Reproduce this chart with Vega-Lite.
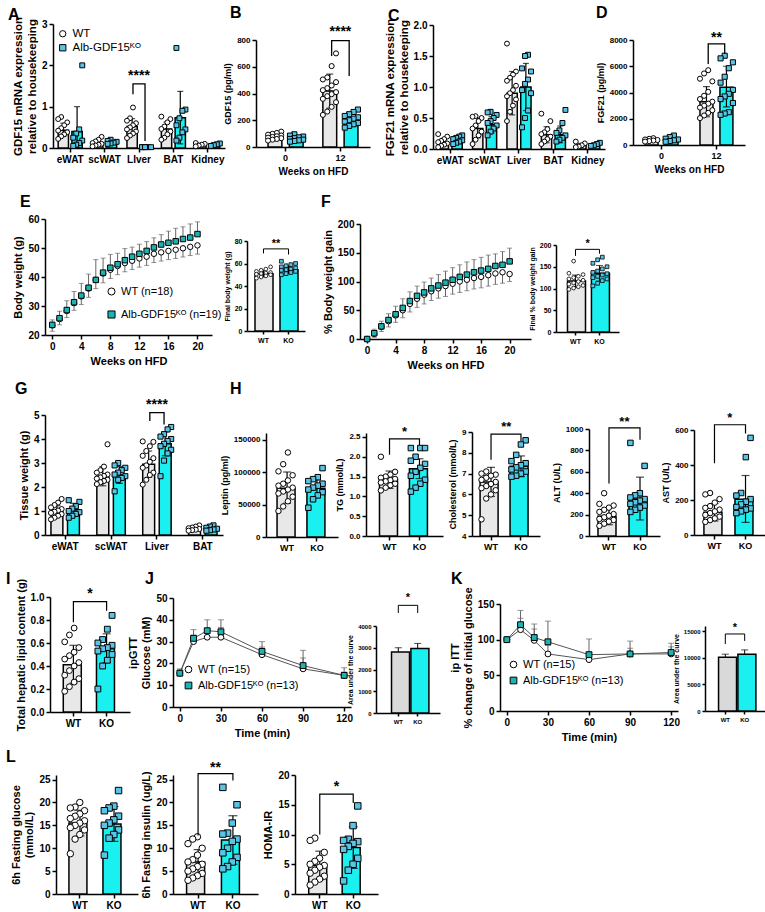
{
"$schema":"https://vega.github.io/schema/vega-lite/v6.json",
"padding":{"left":3,"top":5,"right":2,"bottom":2},
"config":{"view":{"stroke":null,"fill":"transparent"},"font":"Liberation Sans",
"axis":{"labelFont":"Liberation Sans","titleFont":"Liberation Sans","labelFontWeight":"bold","titleFontWeight":"bold","labelColor":"black","titleColor":"black","domainColor":"black","tickColor":"black","domainWidth":1.5,"tickWidth":1.5,"tickSize":4,"labelFontSize":10,"titleFontSize":11,"grid":false,"labelPadding":2,"titlePadding":4,"labelAngle":0,"labelFlush":false,"labelOverlap":false,"tickCount":30},
"title":{"anchor":"start","frame":"group","fontSize":16,"font":"Liberation Sans","fontWeight":"bold","color":"black","baseline":"bottom","offset":0}},
"datasets":{
"bars":[
{"p":"A","c":"eWAT","g":"WT","m":0.43,"lo":0.28,"hi":0.6},{"p":"A","c":"eWAT","g":"KO","m":0.4,"lo":0,"hi":1.0},
{"p":"A","c":"scWAT","g":"WT","m":0.12,"lo":0.06,"hi":0.18},{"p":"A","c":"scWAT","g":"KO","m":0.14,"lo":0.11,"hi":0.17},
{"p":"A","c":"LIver","g":"WT","m":0.52,"lo":0.33,"hi":0.71},{"p":"A","c":"LIver","g":"KO","m":0.02,"lo":0.01,"hi":0.03},
{"p":"A","c":"BAT","g":"WT","m":0.46,"lo":0.29,"hi":0.63},{"p":"A","c":"BAT","g":"KO","m":0.73,"lo":0.1,"hi":1.37},
{"p":"A","c":"Kidney","g":"WT","m":0.08,"lo":0.05,"hi":0.11},{"p":"A","c":"Kidney","g":"KO","m":0.07,"lo":0.05,"hi":0.09},
{"p":"B","c":"0","g":"WT","m":80,"lo":60,"hi":100},{"p":"B","c":"0","g":"KO","m":65,"lo":47,"hi":83},
{"p":"B","c":"12","g":"WT","m":418,"lo":290,"hi":545},{"p":"B","c":"12","g":"KO","m":205,"lo":165,"hi":245},
{"p":"C","c":"eWAT","g":"WT","m":0.11,"lo":0.05,"hi":0.17},{"p":"C","c":"eWAT","g":"KO","m":0.15,"lo":0.1,"hi":0.2},
{"p":"C","c":"scWAT","g":"WT","m":0.33,"lo":0.18,"hi":0.5},{"p":"C","c":"scWAT","g":"KO","m":0.39,"lo":0.26,"hi":0.52},
{"p":"C","c":"Liver","g":"WT","m":0.9,"lo":0.55,"hi":1.25},{"p":"C","c":"Liver","g":"KO","m":1.0,"lo":0.62,"hi":1.38},
{"p":"C","c":"BAT","g":"WT","m":0.23,"lo":0.1,"hi":0.36},{"p":"C","c":"BAT","g":"KO","m":0.23,"lo":0.1,"hi":0.37},
{"p":"C","c":"Kidney","g":"WT","m":0.06,"lo":0.03,"hi":0.09},{"p":"C","c":"Kidney","g":"KO","m":0.07,"lo":0.05,"hi":0.09},
{"p":"D","c":"0","g":"WT","m":380,"lo":280,"hi":480},{"p":"D","c":"0","g":"KO","m":430,"lo":270,"hi":590},
{"p":"D","c":"12","g":"WT","m":3300,"lo":2150,"hi":4450},{"p":"D","c":"12","g":"KO","m":4400,"lo":2900,"hi":6000},
{"p":"G","c":"eWAT","g":"WT","m":1.0,"lo":0.78,"hi":1.22},{"p":"G","c":"eWAT","g":"KO","m":1.05,"lo":0.78,"hi":1.32},
{"p":"G","c":"scWAT","g":"WT","m":2.45,"lo":2.05,"hi":2.85},{"p":"G","c":"scWAT","g":"KO","m":2.5,"lo":2.15,"hi":2.85},
{"p":"G","c":"Liver","g":"WT","m":2.95,"lo":2.4,"hi":3.5},{"p":"G","c":"Liver","g":"KO","m":3.8,"lo":3.3,"hi":4.3},
{"p":"G","c":"BAT","g":"WT","m":0.28,"lo":0.2,"hi":0.36},{"p":"G","c":"BAT","g":"KO","m":0.27,"lo":0.2,"hi":0.34},
{"p":"Ei","g":"WT","m":51,"lo":48,"hi":54},{"p":"Ei","g":"KO","m":54.5,"lo":51,"hi":58},
{"p":"Fi","g":"WT","m":117,"lo":103,"hi":131},{"p":"Fi","g":"KO","m":135,"lo":117,"hi":153},
{"p":"Lep","g":"WT","m":75000,"lo":52000,"hi":100000},{"p":"Lep","g":"KO","m":75000,"lo":62000,"hi":88000},
{"p":"TG","g":"WT","m":1.42,"lo":1.2,"hi":1.64},{"p":"TG","g":"KO","m":1.7,"lo":1.45,"hi":1.95},
{"p":"Chol","g":"WT","m":6.6,"lo":5.9,"hi":7.3},{"p":"Chol","g":"KO","m":7.35,"lo":6.85,"hi":7.85},
{"p":"ALT","g":"WT","m":185,"lo":105,"hi":265},{"p":"ALT","g":"KO","m":345,"lo":150,"hi":550},
{"p":"AST","g":"WT","m":130,"lo":80,"hi":180},{"p":"AST","g":"KO","m":205,"lo":72,"hi":340},
{"p":"I","g":"WT","m":0.41,"lo":0.25,"hi":0.58},{"p":"I","g":"KO","m":0.55,"lo":0.43,"hi":0.68},
{"p":"Ji","g":"WT","m":2800,"lo":2600,"hi":3000},{"p":"Ji","g":"KO","m":2970,"lo":2750,"hi":3200},
{"p":"Ki","g":"WT","m":10100,"lo":9500,"hi":10700},{"p":"Ki","g":"KO","m":10700,"lo":9900,"hi":11500},
{"p":"Glu","g":"WT","m":15.5,"lo":12.7,"hi":18.3},{"p":"Glu","g":"KO","m":15.3,"lo":11.5,"hi":19.1},
{"p":"Ins","g":"WT","m":7,"lo":4.3,"hi":9.7},{"p":"Ins","g":"KO","m":11.8,"lo":6.5,"hi":17.1},
{"p":"HOMA","g":"WT","m":4.8,"lo":2.4,"hi":7.2},{"p":"HOMA","g":"KO","m":7.8,"lo":4.3,"hi":11.3}
],
"pts":[
{"p":"A","c":"eWAT","g":"WT","v":0.75},{"p":"A","c":"eWAT","g":"WT","v":0.7},{"p":"A","c":"eWAT","g":"WT","v":0.62},{"p":"A","c":"eWAT","g":"WT","v":0.55},{"p":"A","c":"eWAT","g":"WT","v":0.48},{"p":"A","c":"eWAT","g":"WT","v":0.42},{"p":"A","c":"eWAT","g":"WT","v":0.38},{"p":"A","c":"eWAT","g":"WT","v":0.33},{"p":"A","c":"eWAT","g":"WT","v":0.28},{"p":"A","c":"eWAT","g":"WT","v":0.22},
{"p":"A","c":"eWAT","g":"KO","v":2.0},{"p":"A","c":"eWAT","g":"KO","v":0.45},{"p":"A","c":"eWAT","g":"KO","v":0.35},{"p":"A","c":"eWAT","g":"KO","v":0.25},{"p":"A","c":"eWAT","g":"KO","v":0.18},{"p":"A","c":"eWAT","g":"KO","v":0.12},{"p":"A","c":"eWAT","g":"KO","v":0.08},{"p":"A","c":"eWAT","g":"KO","v":0.05},
{"p":"A","c":"scWAT","g":"WT","v":0.27},{"p":"A","c":"scWAT","g":"WT","v":0.2},{"p":"A","c":"scWAT","g":"WT","v":0.16},{"p":"A","c":"scWAT","g":"WT","v":0.12},{"p":"A","c":"scWAT","g":"WT","v":0.1},{"p":"A","c":"scWAT","g":"WT","v":0.08},{"p":"A","c":"scWAT","g":"WT","v":0.06},{"p":"A","c":"scWAT","g":"WT","v":0.04},
{"p":"A","c":"scWAT","g":"KO","v":0.2},{"p":"A","c":"scWAT","g":"KO","v":0.17},{"p":"A","c":"scWAT","g":"KO","v":0.15},{"p":"A","c":"scWAT","g":"KO","v":0.13},{"p":"A","c":"scWAT","g":"KO","v":0.11},{"p":"A","c":"scWAT","g":"KO","v":0.1},
{"p":"A","c":"LIver","g":"WT","v":0.98},{"p":"A","c":"LIver","g":"WT","v":0.72},{"p":"A","c":"LIver","g":"WT","v":0.66},{"p":"A","c":"LIver","g":"WT","v":0.6},{"p":"A","c":"LIver","g":"WT","v":0.55},{"p":"A","c":"LIver","g":"WT","v":0.5},{"p":"A","c":"LIver","g":"WT","v":0.45},{"p":"A","c":"LIver","g":"WT","v":0.4},{"p":"A","c":"LIver","g":"WT","v":0.35},{"p":"A","c":"LIver","g":"WT","v":0.3},{"p":"A","c":"LIver","g":"WT","v":0.24},
{"p":"A","c":"LIver","g":"KO","v":0.02},{"p":"A","c":"LIver","g":"KO","v":0.02},{"p":"A","c":"LIver","g":"KO","v":0.02},{"p":"A","c":"LIver","g":"KO","v":0.02},{"p":"A","c":"LIver","g":"KO","v":0.02},{"p":"A","c":"LIver","g":"KO","v":0.02},
{"p":"A","c":"BAT","g":"WT","v":0.76},{"p":"A","c":"BAT","g":"WT","v":0.7},{"p":"A","c":"BAT","g":"WT","v":0.62},{"p":"A","c":"BAT","g":"WT","v":0.52},{"p":"A","c":"BAT","g":"WT","v":0.46},{"p":"A","c":"BAT","g":"WT","v":0.4},{"p":"A","c":"BAT","g":"WT","v":0.33},{"p":"A","c":"BAT","g":"WT","v":0.25},{"p":"A","c":"BAT","g":"WT","v":0.2},
{"p":"A","c":"BAT","g":"KO","v":2.42},{"p":"A","c":"BAT","g":"KO","v":0.93},{"p":"A","c":"BAT","g":"KO","v":0.9},{"p":"A","c":"BAT","g":"KO","v":0.72},{"p":"A","c":"BAT","g":"KO","v":0.55},{"p":"A","c":"BAT","g":"KO","v":0.45},{"p":"A","c":"BAT","g":"KO","v":0.38},{"p":"A","c":"BAT","g":"KO","v":0.25},{"p":"A","c":"BAT","g":"KO","v":0.18},
{"p":"A","c":"Kidney","g":"WT","v":0.12},{"p":"A","c":"Kidney","g":"WT","v":0.1},{"p":"A","c":"Kidney","g":"WT","v":0.08},{"p":"A","c":"Kidney","g":"WT","v":0.06},{"p":"A","c":"Kidney","g":"WT","v":0.04},
{"p":"A","c":"Kidney","g":"KO","v":0.11},{"p":"A","c":"Kidney","g":"KO","v":0.09},{"p":"A","c":"Kidney","g":"KO","v":0.07},{"p":"A","c":"Kidney","g":"KO","v":0.05},
{"p":"B","c":"0","g":"WT","v":115},{"p":"B","c":"0","g":"WT","v":105},{"p":"B","c":"0","g":"WT","v":98},{"p":"B","c":"0","g":"WT","v":92},{"p":"B","c":"0","g":"WT","v":86},{"p":"B","c":"0","g":"WT","v":80},{"p":"B","c":"0","g":"WT","v":75},{"p":"B","c":"0","g":"WT","v":70},{"p":"B","c":"0","g":"WT","v":66},{"p":"B","c":"0","g":"WT","v":60},{"p":"B","c":"0","g":"WT","v":55},{"p":"B","c":"0","g":"WT","v":48},
{"p":"B","c":"0","g":"KO","v":95},{"p":"B","c":"0","g":"KO","v":85},{"p":"B","c":"0","g":"KO","v":78},{"p":"B","c":"0","g":"KO","v":72},{"p":"B","c":"0","g":"KO","v":66},{"p":"B","c":"0","g":"KO","v":60},{"p":"B","c":"0","g":"KO","v":55},{"p":"B","c":"0","g":"KO","v":50},{"p":"B","c":"0","g":"KO","v":45},{"p":"B","c":"0","g":"KO","v":40},
{"p":"B","c":"12","g":"WT","v":700},{"p":"B","c":"12","g":"WT","v":605},{"p":"B","c":"12","g":"WT","v":520},{"p":"B","c":"12","g":"WT","v":505},{"p":"B","c":"12","g":"WT","v":485},{"p":"B","c":"12","g":"WT","v":460},{"p":"B","c":"12","g":"WT","v":440},{"p":"B","c":"12","g":"WT","v":425},{"p":"B","c":"12","g":"WT","v":410},{"p":"B","c":"12","g":"WT","v":395},{"p":"B","c":"12","g":"WT","v":380},{"p":"B","c":"12","g":"WT","v":360},{"p":"B","c":"12","g":"WT","v":335},{"p":"B","c":"12","g":"WT","v":300},{"p":"B","c":"12","g":"WT","v":265},{"p":"B","c":"12","g":"WT","v":240},
{"p":"B","c":"12","g":"KO","v":280},{"p":"B","c":"12","g":"KO","v":262},{"p":"B","c":"12","g":"KO","v":245},{"p":"B","c":"12","g":"KO","v":232},{"p":"B","c":"12","g":"KO","v":222},{"p":"B","c":"12","g":"KO","v":212},{"p":"B","c":"12","g":"KO","v":200},{"p":"B","c":"12","g":"KO","v":190},{"p":"B","c":"12","g":"KO","v":180},{"p":"B","c":"12","g":"KO","v":170},{"p":"B","c":"12","g":"KO","v":158},{"p":"B","c":"12","g":"KO","v":145},
{"p":"C","c":"eWAT","g":"WT","v":0.24},{"p":"C","c":"eWAT","g":"WT","v":0.2},{"p":"C","c":"eWAT","g":"WT","v":0.16},{"p":"C","c":"eWAT","g":"WT","v":0.13},{"p":"C","c":"eWAT","g":"WT","v":0.11},{"p":"C","c":"eWAT","g":"WT","v":0.09},{"p":"C","c":"eWAT","g":"WT","v":0.07},{"p":"C","c":"eWAT","g":"WT","v":0.05},{"p":"C","c":"eWAT","g":"WT","v":0.03},
{"p":"C","c":"eWAT","g":"KO","v":0.22},{"p":"C","c":"eWAT","g":"KO","v":0.2},{"p":"C","c":"eWAT","g":"KO","v":0.18},{"p":"C","c":"eWAT","g":"KO","v":0.16},{"p":"C","c":"eWAT","g":"KO","v":0.14},{"p":"C","c":"eWAT","g":"KO","v":0.12},{"p":"C","c":"eWAT","g":"KO","v":0.1},{"p":"C","c":"eWAT","g":"KO","v":0.08},
{"p":"C","c":"scWAT","g":"WT","v":0.53},{"p":"C","c":"scWAT","g":"WT","v":0.52},{"p":"C","c":"scWAT","g":"WT","v":0.5},{"p":"C","c":"scWAT","g":"WT","v":0.45},{"p":"C","c":"scWAT","g":"WT","v":0.38},{"p":"C","c":"scWAT","g":"WT","v":0.33},{"p":"C","c":"scWAT","g":"WT","v":0.28},{"p":"C","c":"scWAT","g":"WT","v":0.22},{"p":"C","c":"scWAT","g":"WT","v":0.15},{"p":"C","c":"scWAT","g":"WT","v":0.08},
{"p":"C","c":"scWAT","g":"KO","v":0.6},{"p":"C","c":"scWAT","g":"KO","v":0.59},{"p":"C","c":"scWAT","g":"KO","v":0.55},{"p":"C","c":"scWAT","g":"KO","v":0.5},{"p":"C","c":"scWAT","g":"KO","v":0.45},{"p":"C","c":"scWAT","g":"KO","v":0.42},{"p":"C","c":"scWAT","g":"KO","v":0.38},{"p":"C","c":"scWAT","g":"KO","v":0.33},{"p":"C","c":"scWAT","g":"KO","v":0.28},{"p":"C","c":"scWAT","g":"KO","v":0.22},
{"p":"C","c":"Liver","g":"WT","v":1.7},{"p":"C","c":"Liver","g":"WT","v":1.25},{"p":"C","c":"Liver","g":"WT","v":1.2},{"p":"C","c":"Liver","g":"WT","v":1.15},{"p":"C","c":"Liver","g":"WT","v":1.1},{"p":"C","c":"Liver","g":"WT","v":1.02},{"p":"C","c":"Liver","g":"WT","v":0.95},{"p":"C","c":"Liver","g":"WT","v":0.9},{"p":"C","c":"Liver","g":"WT","v":0.85},{"p":"C","c":"Liver","g":"WT","v":0.8},{"p":"C","c":"Liver","g":"WT","v":0.7},{"p":"C","c":"Liver","g":"WT","v":0.6},{"p":"C","c":"Liver","g":"WT","v":0.45},
{"p":"C","c":"Liver","g":"KO","v":1.52},{"p":"C","c":"Liver","g":"KO","v":1.5},{"p":"C","c":"Liver","g":"KO","v":1.3},{"p":"C","c":"Liver","g":"KO","v":1.25},{"p":"C","c":"Liver","g":"KO","v":1.12},{"p":"C","c":"Liver","g":"KO","v":1.05},{"p":"C","c":"Liver","g":"KO","v":0.95},{"p":"C","c":"Liver","g":"KO","v":0.9},{"p":"C","c":"Liver","g":"KO","v":0.62},{"p":"C","c":"Liver","g":"KO","v":0.5},{"p":"C","c":"Liver","g":"KO","v":0.35},
{"p":"C","c":"BAT","g":"WT","v":0.57},{"p":"C","c":"BAT","g":"WT","v":0.45},{"p":"C","c":"BAT","g":"WT","v":0.32},{"p":"C","c":"BAT","g":"WT","v":0.27},{"p":"C","c":"BAT","g":"WT","v":0.24},{"p":"C","c":"BAT","g":"WT","v":0.2},{"p":"C","c":"BAT","g":"WT","v":0.16},{"p":"C","c":"BAT","g":"WT","v":0.12},{"p":"C","c":"BAT","g":"WT","v":0.08},
{"p":"C","c":"BAT","g":"KO","v":0.63},{"p":"C","c":"BAT","g":"KO","v":0.42},{"p":"C","c":"BAT","g":"KO","v":0.3},{"p":"C","c":"BAT","g":"KO","v":0.26},{"p":"C","c":"BAT","g":"KO","v":0.22},{"p":"C","c":"BAT","g":"KO","v":0.18},{"p":"C","c":"BAT","g":"KO","v":0.15},{"p":"C","c":"BAT","g":"KO","v":0.12},
{"p":"C","c":"Kidney","g":"WT","v":0.12},{"p":"C","c":"Kidney","g":"WT","v":0.09},{"p":"C","c":"Kidney","g":"WT","v":0.06},{"p":"C","c":"Kidney","g":"WT","v":0.04},{"p":"C","c":"Kidney","g":"WT","v":0.03},
{"p":"C","c":"Kidney","g":"KO","v":0.1},{"p":"C","c":"Kidney","g":"KO","v":0.08},{"p":"C","c":"Kidney","g":"KO","v":0.06},{"p":"C","c":"Kidney","g":"KO","v":0.05},
{"p":"D","c":"0","g":"WT","v":520},{"p":"D","c":"0","g":"WT","v":470},{"p":"D","c":"0","g":"WT","v":420},{"p":"D","c":"0","g":"WT","v":380},{"p":"D","c":"0","g":"WT","v":340},{"p":"D","c":"0","g":"WT","v":300},{"p":"D","c":"0","g":"WT","v":260},
{"p":"D","c":"0","g":"KO","v":720},{"p":"D","c":"0","g":"KO","v":600},{"p":"D","c":"0","g":"KO","v":480},{"p":"D","c":"0","g":"KO","v":420},{"p":"D","c":"0","g":"KO","v":360},{"p":"D","c":"0","g":"KO","v":300},{"p":"D","c":"0","g":"KO","v":250},
{"p":"D","c":"12","g":"WT","v":5700},{"p":"D","c":"12","g":"WT","v":5450},{"p":"D","c":"12","g":"WT","v":5050},{"p":"D","c":"12","g":"WT","v":4850},{"p":"D","c":"12","g":"WT","v":4050},{"p":"D","c":"12","g":"WT","v":3750},{"p":"D","c":"12","g":"WT","v":3500},{"p":"D","c":"12","g":"WT","v":3300},{"p":"D","c":"12","g":"WT","v":3150},{"p":"D","c":"12","g":"WT","v":3000},{"p":"D","c":"12","g":"WT","v":2850},{"p":"D","c":"12","g":"WT","v":2650},{"p":"D","c":"12","g":"WT","v":2450},{"p":"D","c":"12","g":"WT","v":2250},{"p":"D","c":"12","g":"WT","v":2050},
{"p":"D","c":"12","g":"KO","v":6800},{"p":"D","c":"12","g":"KO","v":6600},{"p":"D","c":"12","g":"KO","v":6300},{"p":"D","c":"12","g":"KO","v":5850},{"p":"D","c":"12","g":"KO","v":5200},{"p":"D","c":"12","g":"KO","v":4750},{"p":"D","c":"12","g":"KO","v":4200},{"p":"D","c":"12","g":"KO","v":3900},{"p":"D","c":"12","g":"KO","v":3700},{"p":"D","c":"12","g":"KO","v":3500},{"p":"D","c":"12","g":"KO","v":3200},{"p":"D","c":"12","g":"KO","v":2500},{"p":"D","c":"12","g":"KO","v":2400},{"p":"D","c":"12","g":"KO","v":2300},
{"p":"G","c":"eWAT","g":"WT","v":1.5},{"p":"G","c":"eWAT","g":"WT","v":1.35},{"p":"G","c":"eWAT","g":"WT","v":1.25},{"p":"G","c":"eWAT","g":"WT","v":1.15},{"p":"G","c":"eWAT","g":"WT","v":1.08},{"p":"G","c":"eWAT","g":"WT","v":1.02},{"p":"G","c":"eWAT","g":"WT","v":0.97},{"p":"G","c":"eWAT","g":"WT","v":0.92},{"p":"G","c":"eWAT","g":"WT","v":0.87},{"p":"G","c":"eWAT","g":"WT","v":0.8},{"p":"G","c":"eWAT","g":"WT","v":0.72},{"p":"G","c":"eWAT","g":"WT","v":0.65},
{"p":"G","c":"eWAT","g":"KO","v":1.45},{"p":"G","c":"eWAT","g":"KO","v":1.38},{"p":"G","c":"eWAT","g":"KO","v":1.2},{"p":"G","c":"eWAT","g":"KO","v":1.1},{"p":"G","c":"eWAT","g":"KO","v":1.0},{"p":"G","c":"eWAT","g":"KO","v":0.95},{"p":"G","c":"eWAT","g":"KO","v":0.88},{"p":"G","c":"eWAT","g":"KO","v":0.8},{"p":"G","c":"eWAT","g":"KO","v":0.72},
{"p":"G","c":"scWAT","g":"WT","v":3.78},{"p":"G","c":"scWAT","g":"WT","v":2.85},{"p":"G","c":"scWAT","g":"WT","v":2.7},{"p":"G","c":"scWAT","g":"WT","v":2.6},{"p":"G","c":"scWAT","g":"WT","v":2.52},{"p":"G","c":"scWAT","g":"WT","v":2.46},{"p":"G","c":"scWAT","g":"WT","v":2.4},{"p":"G","c":"scWAT","g":"WT","v":2.35},{"p":"G","c":"scWAT","g":"WT","v":2.3},{"p":"G","c":"scWAT","g":"WT","v":2.25},{"p":"G","c":"scWAT","g":"WT","v":2.2},{"p":"G","c":"scWAT","g":"WT","v":2.12},
{"p":"G","c":"scWAT","g":"KO","v":3.0},{"p":"G","c":"scWAT","g":"KO","v":2.9},{"p":"G","c":"scWAT","g":"KO","v":2.8},{"p":"G","c":"scWAT","g":"KO","v":2.7},{"p":"G","c":"scWAT","g":"KO","v":2.6},{"p":"G","c":"scWAT","g":"KO","v":2.52},{"p":"G","c":"scWAT","g":"KO","v":2.45},{"p":"G","c":"scWAT","g":"KO","v":2.38},{"p":"G","c":"scWAT","g":"KO","v":2.3},{"p":"G","c":"scWAT","g":"KO","v":1.82},
{"p":"G","c":"Liver","g":"WT","v":3.9},{"p":"G","c":"Liver","g":"WT","v":3.88},{"p":"G","c":"Liver","g":"WT","v":3.7},{"p":"G","c":"Liver","g":"WT","v":3.5},{"p":"G","c":"Liver","g":"WT","v":3.3},{"p":"G","c":"Liver","g":"WT","v":3.2},{"p":"G","c":"Liver","g":"WT","v":3.05},{"p":"G","c":"Liver","g":"WT","v":2.9},{"p":"G","c":"Liver","g":"WT","v":2.8},{"p":"G","c":"Liver","g":"WT","v":2.6},{"p":"G","c":"Liver","g":"WT","v":2.5},{"p":"G","c":"Liver","g":"WT","v":2.3},{"p":"G","c":"Liver","g":"WT","v":2.1},
{"p":"G","c":"Liver","g":"KO","v":4.5},{"p":"G","c":"Liver","g":"KO","v":4.4},{"p":"G","c":"Liver","g":"KO","v":4.2},{"p":"G","c":"Liver","g":"KO","v":4.1},{"p":"G","c":"Liver","g":"KO","v":4.0},{"p":"G","c":"Liver","g":"KO","v":3.92},{"p":"G","c":"Liver","g":"KO","v":3.8},{"p":"G","c":"Liver","g":"KO","v":3.7},{"p":"G","c":"Liver","g":"KO","v":3.55},{"p":"G","c":"Liver","g":"KO","v":3.4},{"p":"G","c":"Liver","g":"KO","v":3.1},{"p":"G","c":"Liver","g":"KO","v":2.45},
{"p":"G","c":"BAT","g":"WT","v":0.4},{"p":"G","c":"BAT","g":"WT","v":0.35},{"p":"G","c":"BAT","g":"WT","v":0.31},{"p":"G","c":"BAT","g":"WT","v":0.28},{"p":"G","c":"BAT","g":"WT","v":0.25},{"p":"G","c":"BAT","g":"WT","v":0.22},{"p":"G","c":"BAT","g":"WT","v":0.2},{"p":"G","c":"BAT","g":"WT","v":0.18},
{"p":"G","c":"BAT","g":"KO","v":0.4},{"p":"G","c":"BAT","g":"KO","v":0.35},{"p":"G","c":"BAT","g":"KO","v":0.3},{"p":"G","c":"BAT","g":"KO","v":0.26},{"p":"G","c":"BAT","g":"KO","v":0.23},{"p":"G","c":"BAT","g":"KO","v":0.2},{"p":"G","c":"BAT","g":"KO","v":0.18},
{"p":"Ei","g":"WT","v":57},{"p":"Ei","g":"WT","v":55},{"p":"Ei","g":"WT","v":54},{"p":"Ei","g":"WT","v":53},{"p":"Ei","g":"WT","v":52},{"p":"Ei","g":"WT","v":51.5},{"p":"Ei","g":"WT","v":51},{"p":"Ei","g":"WT","v":50.5},{"p":"Ei","g":"WT","v":50},{"p":"Ei","g":"WT","v":49},{"p":"Ei","g":"WT","v":48},{"p":"Ei","g":"WT","v":47},
{"p":"Ei","g":"KO","v":62},{"p":"Ei","g":"KO","v":60},{"p":"Ei","g":"KO","v":59},{"p":"Ei","g":"KO","v":58},{"p":"Ei","g":"KO","v":57},{"p":"Ei","g":"KO","v":56},{"p":"Ei","g":"KO","v":55},{"p":"Ei","g":"KO","v":54.5},{"p":"Ei","g":"KO","v":54},{"p":"Ei","g":"KO","v":53},{"p":"Ei","g":"KO","v":52},{"p":"Ei","g":"KO","v":51},{"p":"Ei","g":"KO","v":50},
{"p":"Fi","g":"WT","v":163},{"p":"Fi","g":"WT","v":135},{"p":"Fi","g":"WT","v":132},{"p":"Fi","g":"WT","v":128},{"p":"Fi","g":"WT","v":125},{"p":"Fi","g":"WT","v":122},{"p":"Fi","g":"WT","v":119},{"p":"Fi","g":"WT","v":116},{"p":"Fi","g":"WT","v":113},{"p":"Fi","g":"WT","v":110},{"p":"Fi","g":"WT","v":107},{"p":"Fi","g":"WT","v":104},{"p":"Fi","g":"WT","v":101},{"p":"Fi","g":"WT","v":98},
{"p":"Fi","g":"KO","v":172},{"p":"Fi","g":"KO","v":166},{"p":"Fi","g":"KO","v":158},{"p":"Fi","g":"KO","v":150},{"p":"Fi","g":"KO","v":145},{"p":"Fi","g":"KO","v":140},{"p":"Fi","g":"KO","v":137},{"p":"Fi","g":"KO","v":134},{"p":"Fi","g":"KO","v":131},{"p":"Fi","g":"KO","v":128},{"p":"Fi","g":"KO","v":125},{"p":"Fi","g":"KO","v":122},{"p":"Fi","g":"KO","v":118},{"p":"Fi","g":"KO","v":112},{"p":"Fi","g":"KO","v":106},
{"p":"Lep","g":"WT","v":130000},{"p":"Lep","g":"WT","v":112000},{"p":"Lep","g":"WT","v":101000},{"p":"Lep","g":"WT","v":95000},{"p":"Lep","g":"WT","v":87000},{"p":"Lep","g":"WT","v":82000},{"p":"Lep","g":"WT","v":79000},{"p":"Lep","g":"WT","v":76000},{"p":"Lep","g":"WT","v":73000},{"p":"Lep","g":"WT","v":70000},{"p":"Lep","g":"WT","v":67000},{"p":"Lep","g":"WT","v":62000},{"p":"Lep","g":"WT","v":55000},{"p":"Lep","g":"WT","v":47000},{"p":"Lep","g":"WT","v":40000},
{"p":"Lep","g":"KO","v":106000},{"p":"Lep","g":"KO","v":92000},{"p":"Lep","g":"KO","v":89000},{"p":"Lep","g":"KO","v":86000},{"p":"Lep","g":"KO","v":82000},{"p":"Lep","g":"KO","v":79000},{"p":"Lep","g":"KO","v":76000},{"p":"Lep","g":"KO","v":73000},{"p":"Lep","g":"KO","v":69000},{"p":"Lep","g":"KO","v":64000},{"p":"Lep","g":"KO","v":58000},{"p":"Lep","g":"KO","v":45000},
{"p":"TG","g":"WT","v":2.0},{"p":"TG","g":"WT","v":1.62},{"p":"TG","g":"WT","v":1.55},{"p":"TG","g":"WT","v":1.5},{"p":"TG","g":"WT","v":1.47},{"p":"TG","g":"WT","v":1.44},{"p":"TG","g":"WT","v":1.41},{"p":"TG","g":"WT","v":1.38},{"p":"TG","g":"WT","v":1.35},{"p":"TG","g":"WT","v":1.32},{"p":"TG","g":"WT","v":1.28},{"p":"TG","g":"WT","v":1.22},{"p":"TG","g":"WT","v":1.15},
{"p":"TG","g":"KO","v":2.22},{"p":"TG","g":"KO","v":2.22},{"p":"TG","g":"KO","v":2.22},{"p":"TG","g":"KO","v":2.0},{"p":"TG","g":"KO","v":1.9},{"p":"TG","g":"KO","v":1.82},{"p":"TG","g":"KO","v":1.72},{"p":"TG","g":"KO","v":1.62},{"p":"TG","g":"KO","v":1.52},{"p":"TG","g":"KO","v":1.42},{"p":"TG","g":"KO","v":1.32},{"p":"TG","g":"KO","v":1.22},{"p":"TG","g":"KO","v":1.12},
{"p":"Chol","g":"WT","v":7.1},{"p":"Chol","g":"WT","v":7.0},{"p":"Chol","g":"WT","v":6.95},{"p":"Chol","g":"WT","v":6.9},{"p":"Chol","g":"WT","v":6.8},{"p":"Chol","g":"WT","v":6.7},{"p":"Chol","g":"WT","v":6.6},{"p":"Chol","g":"WT","v":6.5},{"p":"Chol","g":"WT","v":6.4},{"p":"Chol","g":"WT","v":6.3},{"p":"Chol","g":"WT","v":6.2},{"p":"Chol","g":"WT","v":6.0},{"p":"Chol","g":"WT","v":5.8},{"p":"Chol","g":"WT","v":4.8},
{"p":"Chol","g":"KO","v":8.6},{"p":"Chol","g":"KO","v":8.4},{"p":"Chol","g":"KO","v":7.9},{"p":"Chol","g":"KO","v":7.6},{"p":"Chol","g":"KO","v":7.5},{"p":"Chol","g":"KO","v":7.4},{"p":"Chol","g":"KO","v":7.3},{"p":"Chol","g":"KO","v":7.2},{"p":"Chol","g":"KO","v":7.1},{"p":"Chol","g":"KO","v":7.0},{"p":"Chol","g":"KO","v":6.9},{"p":"Chol","g":"KO","v":6.85},
{"p":"ALT","g":"WT","v":400},{"p":"ALT","g":"WT","v":300},{"p":"ALT","g":"WT","v":285},{"p":"ALT","g":"WT","v":265},{"p":"ALT","g":"WT","v":245},{"p":"ALT","g":"WT","v":225},{"p":"ALT","g":"WT","v":205},{"p":"ALT","g":"WT","v":190},{"p":"ALT","g":"WT","v":175},{"p":"ALT","g":"WT","v":160},{"p":"ALT","g":"WT","v":150},{"p":"ALT","g":"WT","v":135},{"p":"ALT","g":"WT","v":115},{"p":"ALT","g":"WT","v":95},
{"p":"ALT","g":"KO","v":870},{"p":"ALT","g":"KO","v":655},{"p":"ALT","g":"KO","v":400},{"p":"ALT","g":"KO","v":380},{"p":"ALT","g":"KO","v":360},{"p":"ALT","g":"KO","v":345},{"p":"ALT","g":"KO","v":330},{"p":"ALT","g":"KO","v":315},{"p":"ALT","g":"KO","v":300},{"p":"ALT","g":"KO","v":285},{"p":"ALT","g":"KO","v":265},{"p":"ALT","g":"KO","v":245},{"p":"ALT","g":"KO","v":225},
{"p":"AST","g":"WT","v":240},{"p":"AST","g":"WT","v":232},{"p":"AST","g":"WT","v":205},{"p":"AST","g":"WT","v":185},{"p":"AST","g":"WT","v":165},{"p":"AST","g":"WT","v":155},{"p":"AST","g":"WT","v":145},{"p":"AST","g":"WT","v":135},{"p":"AST","g":"WT","v":125},{"p":"AST","g":"WT","v":115},{"p":"AST","g":"WT","v":105},{"p":"AST","g":"WT","v":95},{"p":"AST","g":"WT","v":85},{"p":"AST","g":"WT","v":75},
{"p":"AST","g":"KO","v":555},{"p":"AST","g":"KO","v":445},{"p":"AST","g":"KO","v":240},{"p":"AST","g":"KO","v":225},{"p":"AST","g":"KO","v":205},{"p":"AST","g":"KO","v":190},{"p":"AST","g":"KO","v":175},{"p":"AST","g":"KO","v":160},{"p":"AST","g":"KO","v":152},{"p":"AST","g":"KO","v":145},{"p":"AST","g":"KO","v":135},{"p":"AST","g":"KO","v":125},
{"p":"I","g":"WT","v":0.73},{"p":"I","g":"WT","v":0.67},{"p":"I","g":"WT","v":0.61},{"p":"I","g":"WT","v":0.56},{"p":"I","g":"WT","v":0.52},{"p":"I","g":"WT","v":0.49},{"p":"I","g":"WT","v":0.46},{"p":"I","g":"WT","v":0.43},{"p":"I","g":"WT","v":0.4},{"p":"I","g":"WT","v":0.36},{"p":"I","g":"WT","v":0.32},{"p":"I","g":"WT","v":0.29},{"p":"I","g":"WT","v":0.26},{"p":"I","g":"WT","v":0.22},{"p":"I","g":"WT","v":0.18},
{"p":"I","g":"KO","v":0.84},{"p":"I","g":"KO","v":0.72},{"p":"I","g":"KO","v":0.63},{"p":"I","g":"KO","v":0.6},{"p":"I","g":"KO","v":0.58},{"p":"I","g":"KO","v":0.56},{"p":"I","g":"KO","v":0.55},{"p":"I","g":"KO","v":0.53},{"p":"I","g":"KO","v":0.5},{"p":"I","g":"KO","v":0.45},{"p":"I","g":"KO","v":0.4},{"p":"I","g":"KO","v":0.2},
{"p":"Glu","g":"WT","v":20},{"p":"Glu","g":"WT","v":19},{"p":"Glu","g":"WT","v":18.8},{"p":"Glu","g":"WT","v":18.2},{"p":"Glu","g":"WT","v":17.5},{"p":"Glu","g":"WT","v":17},{"p":"Glu","g":"WT","v":16.5},{"p":"Glu","g":"WT","v":16},{"p":"Glu","g":"WT","v":15.5},{"p":"Glu","g":"WT","v":15},{"p":"Glu","g":"WT","v":14.5},{"p":"Glu","g":"WT","v":14},{"p":"Glu","g":"WT","v":13},{"p":"Glu","g":"WT","v":12},{"p":"Glu","g":"WT","v":8.8},
{"p":"Glu","g":"KO","v":22.6},{"p":"Glu","g":"KO","v":19.2},{"p":"Glu","g":"KO","v":18.8},{"p":"Glu","g":"KO","v":18.2},{"p":"Glu","g":"KO","v":17},{"p":"Glu","g":"KO","v":16.2},{"p":"Glu","g":"KO","v":15.5},{"p":"Glu","g":"KO","v":15},{"p":"Glu","g":"KO","v":14},{"p":"Glu","g":"KO","v":13},{"p":"Glu","g":"KO","v":12.2},{"p":"Glu","g":"KO","v":8.5},
{"p":"Ins","g":"WT","v":12.5},{"p":"Ins","g":"WT","v":12},{"p":"Ins","g":"WT","v":11},{"p":"Ins","g":"WT","v":10},{"p":"Ins","g":"WT","v":8.5},{"p":"Ins","g":"WT","v":7.5},{"p":"Ins","g":"WT","v":7},{"p":"Ins","g":"WT","v":6.5},{"p":"Ins","g":"WT","v":6},{"p":"Ins","g":"WT","v":5.5},{"p":"Ins","g":"WT","v":5},{"p":"Ins","g":"WT","v":4.5},{"p":"Ins","g":"WT","v":4},{"p":"Ins","g":"WT","v":3.5},{"p":"Ins","g":"WT","v":3},
{"p":"Ins","g":"KO","v":23.3},{"p":"Ins","g":"KO","v":19.5},{"p":"Ins","g":"KO","v":15.5},{"p":"Ins","g":"KO","v":13.3},{"p":"Ins","g":"KO","v":13.1},{"p":"Ins","g":"KO","v":12},{"p":"Ins","g":"KO","v":11.5},{"p":"Ins","g":"KO","v":10},{"p":"Ins","g":"KO","v":9},{"p":"Ins","g":"KO","v":8},{"p":"Ins","g":"KO","v":7},{"p":"Ins","g":"KO","v":6},{"p":"Ins","g":"KO","v":5.5},
{"p":"HOMA","g":"WT","v":9.4},{"p":"HOMA","g":"WT","v":9},{"p":"HOMA","g":"WT","v":7},{"p":"HOMA","g":"WT","v":6},{"p":"HOMA","g":"WT","v":5.5},{"p":"HOMA","g":"WT","v":5},{"p":"HOMA","g":"WT","v":4.8},{"p":"HOMA","g":"WT","v":4.5},{"p":"HOMA","g":"WT","v":4},{"p":"HOMA","g":"WT","v":3.5},{"p":"HOMA","g":"WT","v":3},{"p":"HOMA","g":"WT","v":2.5},{"p":"HOMA","g":"WT","v":2},{"p":"HOMA","g":"WT","v":1.5},
{"p":"HOMA","g":"KO","v":14.8},{"p":"HOMA","g":"KO","v":11.5},{"p":"HOMA","g":"KO","v":9.2},{"p":"HOMA","g":"KO","v":9},{"p":"HOMA","g":"KO","v":8.8},{"p":"HOMA","g":"KO","v":8.5},{"p":"HOMA","g":"KO","v":8},{"p":"HOMA","g":"KO","v":7.5},{"p":"HOMA","g":"KO","v":6},{"p":"HOMA","g":"KO","v":5},{"p":"HOMA","g":"KO","v":4},{"p":"HOMA","g":"KO","v":2.2}
],
"br":[
{"p":"A","c":"LIver","g":"WT","y":1.3,"o":0},{"p":"A","c":"LIver","g":"WT","y":1.55,"o":1},{"p":"A","c":"LIver","g":"KO","y":1.55,"o":2},{"p":"A","c":"LIver","g":"KO","y":0.17,"o":3},
{"p":"B","c":"12","g":"WT","y":680,"o":0},{"p":"B","c":"12","g":"WT","y":795,"o":1},{"p":"B","c":"12","g":"KO","y":795,"o":2},{"p":"B","c":"12","g":"KO","y":530,"o":3},
{"p":"D","c":"12","g":"WT","y":6170,"o":0},{"p":"D","c":"12","g":"WT","y":7700,"o":1},{"p":"D","c":"12","g":"KO","y":7700,"o":2},{"p":"D","c":"12","g":"KO","y":6930,"o":3},
{"p":"G","c":"Liver","g":"WT","y":4.75,"o":0},{"p":"G","c":"Liver","g":"WT","y":5.1,"o":1},{"p":"G","c":"Liver","g":"KO","y":5.1,"o":2},{"p":"G","c":"Liver","g":"KO","y":4.6,"o":3},
{"p":"Ei","g":"WT","y":69,"o":0},{"p":"Ei","g":"WT","y":73,"o":1},{"p":"Ei","g":"KO","y":73,"o":2},{"p":"Ei","g":"KO","y":68,"o":3},
{"p":"Fi","g":"WT","y":175,"o":0},{"p":"Fi","g":"WT","y":190,"o":1},{"p":"Fi","g":"KO","y":190,"o":2},{"p":"Fi","g":"KO","y":180,"o":3},
{"p":"TG","g":"WT","y":2.05,"o":0},{"p":"TG","g":"WT","y":2.45,"o":1},{"p":"TG","g":"KO","y":2.45,"o":2},{"p":"TG","g":"KO","y":2.3,"o":3},
{"p":"Chol","g":"WT","y":7.67,"o":0},{"p":"Chol","g":"WT","y":8.9,"o":1},{"p":"Chol","g":"KO","y":8.9,"o":2},{"p":"Chol","g":"KO","y":8.55,"o":3},
{"p":"ALT","g":"WT","y":490,"o":0},{"p":"ALT","g":"WT","y":1010,"o":1},{"p":"ALT","g":"KO","y":1010,"o":2},{"p":"ALT","g":"KO","y":900,"o":3},
{"p":"AST","g":"WT","y":410,"o":0},{"p":"AST","g":"WT","y":630,"o":1},{"p":"AST","g":"KO","y":630,"o":2},{"p":"AST","g":"KO","y":580,"o":3},
{"p":"I","g":"WT","y":0.78,"o":0},{"p":"I","g":"WT","y":0.96,"o":1},{"p":"I","g":"KO","y":0.96,"o":2},{"p":"I","g":"KO","y":0.88,"o":3},
{"p":"Ji","g":"WT","y":4600,"o":0},{"p":"Ji","g":"WT","y":4950,"o":1},{"p":"Ji","g":"KO","y":4950,"o":2},{"p":"Ji","g":"KO","y":4600,"o":3},
{"p":"Ki","g":"WT","y":12600,"o":0},{"p":"Ki","g":"WT","y":14500,"o":1},{"p":"Ki","g":"KO","y":14500,"o":2},{"p":"Ki","g":"KO","y":13200,"o":3},
{"p":"Ins","g":"WT","y":12.8,"o":0},{"p":"Ins","g":"WT","y":26.3,"o":1},{"p":"Ins","g":"KO","y":26.3,"o":2},{"p":"Ins","g":"KO","y":24.8,"o":3},
{"p":"HOMA","g":"WT","y":10.0,"o":0},{"p":"HOMA","g":"WT","y":16.8,"o":1},{"p":"HOMA","g":"KO","y":16.8,"o":2},{"p":"HOMA","g":"KO","y":15.3,"o":3}
],
"st":[
{"p":"A","c":"LIver","g":"WT","y":1.74,"t":"****"},{"p":"B","c":"12","g":"WT","y":860,"t":"****"},{"p":"D","c":"12","g":"WT","y":8150,"t":"**"},{"p":"G","c":"Liver","g":"WT","y":5.4,"t":"****"},
{"p":"Ei","g":"WT","y":77,"t":"**"},{"p":"Fi","g":"WT","y":202,"t":"*"},{"p":"TG","g":"WT","y":2.62,"t":"*"},{"p":"Chol","g":"WT","y":9.25,"t":"**"},{"p":"ALT","g":"WT","y":1070,"t":"**"},{"p":"AST","g":"WT","y":670,"t":"*"},
{"p":"I","g":"WT","y":1.03,"t":"*"},{"p":"Ji","g":"WT","y":5300,"t":"*"},{"p":"Ki","g":"WT","y":15600,"t":"*"},{"p":"Ins","g":"WT","y":27.6,"t":"**"},{"p":"HOMA","g":"WT","y":18.0,"t":"*"}
],
"ts":[
{"p":"E","t":0,"g":"WT","m":23.3,"e":21.3},{"p":"E","t":1,"g":"WT","m":25.5,"e":23.5},{"p":"E","t":2,"g":"WT","m":28.3,"e":26},{"p":"E","t":3,"g":"WT","m":31.0,"e":28.5},{"p":"E","t":4,"g":"WT","m":33.3,"e":30.5},{"p":"E","t":5,"g":"WT","m":36.0,"e":33},{"p":"E","t":6,"g":"WT","m":39.0,"e":36},{"p":"E","t":7,"g":"WT","m":41.2,"e":38},{"p":"E","t":8,"g":"WT","m":42.5,"e":39.5},{"p":"E","t":9,"g":"WT","m":43.8,"e":40.8},{"p":"E","t":10,"g":"WT","m":44.8,"e":41.8},{"p":"E","t":11,"g":"WT","m":45.6,"e":42.6},{"p":"E","t":12,"g":"WT","m":46.4,"e":43.4},{"p":"E","t":13,"g":"WT","m":47.0,"e":44},{"p":"E","t":14,"g":"WT","m":48.0,"e":45},{"p":"E","t":15,"g":"WT","m":48.5,"e":45.5},{"p":"E","t":16,"g":"WT","m":49.0,"e":46},{"p":"E","t":17,"g":"WT","m":49.4,"e":46.4},{"p":"E","t":18,"g":"WT","m":49.9,"e":46.9},{"p":"E","t":19,"g":"WT","m":50.4,"e":47.4},{"p":"E","t":20,"g":"WT","m":50.9,"e":47.9},
{"p":"E","t":0,"g":"KO","m":23.5,"e":25.2},{"p":"E","t":1,"g":"KO","m":25.8,"e":28.2},{"p":"E","t":2,"g":"KO","m":28.6,"e":31.8},{"p":"E","t":3,"g":"KO","m":31.3,"e":35},{"p":"E","t":4,"g":"KO","m":33.6,"e":37.8},{"p":"E","t":5,"g":"KO","m":36.3,"e":41},{"p":"E","t":6,"g":"KO","m":39.0,"e":46},{"p":"E","t":7,"g":"KO","m":41.5,"e":46.5},{"p":"E","t":8,"g":"KO","m":43.2,"e":47.8},{"p":"E","t":9,"g":"KO","m":44.4,"e":48.2},{"p":"E","t":10,"g":"KO","m":45.8,"e":49.8},{"p":"E","t":11,"g":"KO","m":47.0,"e":50.3},{"p":"E","t":12,"g":"KO","m":48.0,"e":51.3},{"p":"E","t":13,"g":"KO","m":49.0,"e":52.2},{"p":"E","t":14,"g":"KO","m":50.2,"e":53.5},{"p":"E","t":15,"g":"KO","m":51.2,"e":54.6},{"p":"E","t":16,"g":"KO","m":51.8,"e":55.8},{"p":"E","t":17,"g":"KO","m":52.3,"e":56.8},{"p":"E","t":18,"g":"KO","m":53.1,"e":57.3},{"p":"E","t":19,"g":"KO","m":53.6,"e":58.3},{"p":"E","t":20,"g":"KO","m":54.8,"e":59},
{"p":"F","t":0,"g":"WT","m":0,"e":-3},{"p":"F","t":1,"g":"WT","m":9,"e":3},{"p":"F","t":2,"g":"WT","m":21,"e":13},{"p":"F","t":3,"g":"WT","m":31,"e":21},{"p":"F","t":4,"g":"WT","m":41,"e":29},{"p":"F","t":5,"g":"WT","m":50,"e":37},{"p":"F","t":6,"g":"WT","m":61,"e":47},{"p":"F","t":7,"g":"WT","m":70,"e":55},{"p":"F","t":8,"g":"WT","m":77,"e":61},{"p":"F","t":9,"g":"WT","m":83,"e":67},{"p":"F","t":10,"g":"WT","m":88,"e":71},{"p":"F","t":11,"g":"WT","m":92,"e":74},{"p":"F","t":12,"g":"WT","m":96,"e":78},{"p":"F","t":13,"g":"WT","m":100,"e":81},{"p":"F","t":14,"g":"WT","m":103,"e":84},{"p":"F","t":15,"g":"WT","m":106,"e":87},{"p":"F","t":16,"g":"WT","m":108,"e":89},{"p":"F","t":17,"g":"WT","m":111,"e":92},{"p":"F","t":18,"g":"WT","m":114,"e":95},{"p":"F","t":19,"g":"WT","m":116,"e":97},{"p":"F","t":20,"g":"WT","m":113,"e":100},
{"p":"F","t":0,"g":"KO","m":0,"e":3},{"p":"F","t":1,"g":"KO","m":10,"e":17},{"p":"F","t":2,"g":"KO","m":22,"e":31},{"p":"F","t":3,"g":"KO","m":33,"e":44},{"p":"F","t":4,"g":"KO","m":43,"e":57},{"p":"F","t":5,"g":"KO","m":54,"e":70},{"p":"F","t":6,"g":"KO","m":66,"e":82},{"p":"F","t":7,"g":"KO","m":75,"e":92},{"p":"F","t":8,"g":"KO","m":81,"e":99},{"p":"F","t":9,"g":"KO","m":88,"e":106},{"p":"F","t":10,"g":"KO","m":93,"e":112},{"p":"F","t":11,"g":"KO","m":98,"e":118},{"p":"F","t":12,"g":"KO","m":103,"e":124},{"p":"F","t":13,"g":"KO","m":108,"e":129},{"p":"F","t":14,"g":"KO","m":112,"e":134},{"p":"F","t":15,"g":"KO","m":116,"e":138},{"p":"F","t":16,"g":"KO","m":119,"e":142},{"p":"F","t":17,"g":"KO","m":122,"e":146},{"p":"F","t":18,"g":"KO","m":127,"e":148},{"p":"F","t":19,"g":"KO","m":129,"e":152},{"p":"F","t":20,"g":"KO","m":135,"e":158},
{"p":"J","t":0,"g":"WT","m":15.5,"e":17},{"p":"J","t":10,"g":"WT","m":30,"e":33},{"p":"J","t":20,"g":"WT","m":32,"e":36},{"p":"J","t":30,"g":"WT","m":32,"e":36.5},{"p":"J","t":60,"g":"WT","m":24,"e":27.5},{"p":"J","t":90,"g":"WT","m":17.5,"e":22.5},{"p":"J","t":120,"g":"WT","m":14.5,"e":16},
{"p":"J","t":0,"g":"KO","m":15.5,"e":17.5},{"p":"J","t":10,"g":"KO","m":31.5,"e":35.5},{"p":"J","t":20,"g":"KO","m":35,"e":40},{"p":"J","t":30,"g":"KO","m":34.5,"e":40},{"p":"J","t":60,"g":"KO","m":25.5,"e":30},{"p":"J","t":90,"g":"KO","m":19,"e":26},{"p":"J","t":120,"g":"KO","m":14.5,"e":18},
{"p":"K","t":0,"g":"WT","m":100,"e":102},{"p":"K","t":10,"g":"WT","m":114,"e":130},{"p":"K","t":20,"g":"WT","m":99,"e":115},{"p":"K","t":30,"g":"WT","m":80,"e":92},{"p":"K","t":60,"g":"WT","m":72,"e":80},{"p":"K","t":90,"g":"WT","m":80,"e":88},{"p":"K","t":120,"g":"WT","m":80,"e":90},
{"p":"K","t":0,"g":"KO","m":100,"e":103},{"p":"K","t":10,"g":"KO","m":121,"e":141},{"p":"K","t":20,"g":"KO","m":103,"e":122},{"p":"K","t":30,"g":"KO","m":97,"e":126},{"p":"K","t":60,"g":"KO","m":79,"e":101},{"p":"K","t":90,"g":"KO","m":80,"e":98},{"p":"K","t":120,"g":"KO","m":82,"e":95}
]
},
"columns":6,"align":"each","spacing":0,"bounds":"flush",
"resolve":{"scale":{"shape":"independent","fill":"independent","stroke":"independent"}},
"concat":[
{"width":170,"height":124,"title":{"text":"A","dx":5,"dy":11},
"resolve":{"scale":{"xOffset":"independent"}},
"layer":[
{"data":{"name":"bars"},"transform":[{"filter":"datum.p=='A'"}],"mark":{"type":"bar","stroke":"black","strokeWidth":1.5},
"encoding":{"x":{"field":"c","type":"nominal","sort":["eWAT","scWAT","LIver","BAT","Kidney"],"scale":{"range":[50,222],"paddingInner":0.3,"paddingOuter":0.15},"axis":{"title":null}},
"xOffset":{"field":"g","type":"nominal","scale":{"domain":["WT","KO"],"paddingInner":0.25}},
"y":{"field":"m","type":"quantitative","scale":{"domain":[0,3],"range":[124,0]},"axis":{"offset":-50,"values":[0,1,2,3],"format":"d","title":["GDF15 mRNA expression","relative to housekeeping"],"titleFontSize":11.5}},
"fill":{"condition":{"test":"datum.g=='WT'","value":"#e8e8e8"},"value":"#1af0f0"}}},
{"data":{"name":"bars"},"transform":[{"filter":"datum.p=='A'"}],"mark":{"type":"rule","color":"black","strokeWidth":1.2},
"encoding":{"x":{"field":"c","type":"nominal","sort":["eWAT","scWAT","LIver","BAT","Kidney"]},"xOffset":{"field":"g","type":"nominal","scale":{"domain":["WT","KO"],"paddingInner":0.25}},"y":{"field":"lo","type":"quantitative"},"y2":{"field":"hi"}}},
{"data":{"name":"bars"},"transform":[{"filter":"datum.p=='A'"},{"fold":["lo","hi"],"as":["k","e"]}],"mark":{"type":"tick","orient":"horizontal","color":"black","thickness":1.2,"size":6},
"encoding":{"x":{"field":"c","type":"nominal","sort":["eWAT","scWAT","LIver","BAT","Kidney"]},"xOffset":{"field":"g","type":"nominal","scale":{"domain":["WT","KO"],"paddingInner":0.25}},"y":{"field":"e","type":"quantitative"}}},
{"data":{"name":"pts"},"transform":[{"filter":"datum.p=='A'"},{"window":[{"op":"row_number","as":"r"}],"groupby":["c","g"],"sort":[{"field":"v"}]},{"calculate":"datum.g+(datum.r%4)","as":"s"}],
"mark":{"type":"point","filled":true,"strokeWidth":1,"size":24,"opacity":1},
"encoding":{"x":{"field":"c","type":"nominal","sort":["eWAT","scWAT","LIver","BAT","Kidney"]},"xOffset":{"field":"s","type":"nominal","scale":{"domain":["WT1","WT2","WT3","WT0","_","KO1","KO2","KO3","KO0"],"paddingInner":0,"paddingOuter":0}},"y":{"field":"v","type":"quantitative"},
"shape":{"field":"g","type":"nominal","scale":{"domain":["WT","KO"],"range":["circle","square"]},"legend":{"title":null,"orient":"none","legendX":54,"legendY":4,"labelExpr":"datum.label=='WT' ? 'WT' : 'Alb-GDF15ᴷᴼ'","labelFontSize":11.5,"labelFont":"Liberation Sans","labelFontWeight":"normal","labelColor":"black","symbolStrokeWidth":1,"symbolSize":40,"rowPadding":1}},
"fill":{"field":"g","type":"nominal","scale":{"domain":["WT","KO"],"range":["white","#58c4e6"]},"legend":{"title":null,"orient":"none","legendX":54,"legendY":4,"labelExpr":"datum.label=='WT' ? 'WT' : 'Alb-GDF15ᴷᴼ'","labelFontSize":11.5,"labelFont":"Liberation Sans","labelFontWeight":"normal","labelColor":"black","symbolStrokeWidth":1,"symbolSize":40,"rowPadding":1}},
"stroke":{"field":"g","type":"nominal","scale":{"domain":["WT","KO"],"range":["black","black"]},"legend":{"title":null,"orient":"none","legendX":54,"legendY":4,"labelExpr":"datum.label=='WT' ? 'WT' : 'Alb-GDF15ᴷᴼ'","labelFontSize":11.5,"labelFont":"Liberation Sans","labelFontWeight":"normal","labelColor":"black","symbolStrokeWidth":1,"symbolSize":40,"rowPadding":1}}}},
{"data":{"name":"br"},"transform":[{"filter":"datum.p=='A'"}],"mark":{"type":"line","color":"black","strokeWidth":1.3},
"encoding":{"x":{"field":"c","type":"nominal","sort":["eWAT","scWAT","LIver","BAT","Kidney"]},"xOffset":{"field":"g","type":"nominal","scale":{"domain":["WT","KO"],"paddingInner":0.25}},"y":{"field":"y","type":"quantitative"},"order":{"field":"o"}}},
{"data":{"name":"st"},"transform":[{"filter":"datum.p=='A'"}],"mark":{"type":"text","fontSize":14,"fontWeight":"bold","font":"Liberation Sans","baseline":"middle","color":"black"},
"encoding":{"x":{"field":"c","type":"nominal","sort":["eWAT","scWAT","LIver","BAT","Kidney"]},"y":{"field":"y","type":"quantitative"},"text":{"field":"t"}}}
]},
{"width":122,"height":123,"title":{"text":"B","dx":57,"dy":1},
"resolve":{"scale":{"xOffset":"independent"}},
"layer":[
{"data":{"name":"bars"},"transform":[{"filter":"datum.p=='B'"}],"mark":{"type":"bar","stroke":"black","strokeWidth":1.5},
"encoding":{"x":{"field":"c","type":"nominal","sort":["0","12"],"scale":{"range":[83,197],"paddingInner":0.36,"paddingOuter":0.22},"axis":{"title":"Weeks on HFD","labelFontSize":9,"titleFontSize":10}},
"xOffset":{"field":"g","type":"nominal","scale":{"domain":["WT","KO"],"paddingInner":0.35}},
"y":{"field":"m","type":"quantitative","scale":{"domain":[0,800],"range":[123,16]},"axis":{"offset":-83,"values":[0,200,400,600,800],"format":"d","title":"GDF15 (pg/ml)","labelFontSize":8,"titleFontSize":9}},
"fill":{"condition":{"test":"datum.g=='WT'","value":"#e8e8e8"},"value":"#1af0f0"}}},
{"data":{"name":"bars"},"transform":[{"filter":"datum.p=='B'"}],"mark":{"type":"rule","color":"black","strokeWidth":1.2},
"encoding":{"x":{"field":"c","type":"nominal","sort":["0","12"]},"xOffset":{"field":"g","type":"nominal","scale":{"domain":["WT","KO"],"paddingInner":0.35}},"y":{"field":"lo","type":"quantitative"},"y2":{"field":"hi"}}},
{"data":{"name":"bars"},"transform":[{"filter":"datum.p=='B'"},{"fold":["lo","hi"],"as":["k","e"]}],"mark":{"type":"tick","orient":"horizontal","color":"black","thickness":1.2,"size":7},
"encoding":{"x":{"field":"c","type":"nominal","sort":["0","12"]},"xOffset":{"field":"g","type":"nominal","scale":{"domain":["WT","KO"],"paddingInner":0.35}},"y":{"field":"e","type":"quantitative"}}},
{"data":{"name":"pts"},"transform":[{"filter":"datum.p=='B'"},{"window":[{"op":"row_number","as":"r"}],"groupby":["c","g"],"sort":[{"field":"v"}]},{"calculate":"datum.g+(datum.r%4)","as":"s"}],
"mark":{"type":"point","filled":true,"stroke":"black","strokeWidth":1,"size":26,"opacity":1},
"encoding":{"x":{"field":"c","type":"nominal","sort":["0","12"]},"xOffset":{"field":"s","type":"nominal","scale":{"domain":["WT1","WT2","WT3","WT0","_","KO1","KO2","KO3","KO0"],"paddingInner":0,"paddingOuter":0}},"y":{"field":"v","type":"quantitative"},
"shape":{"condition":{"test":"datum.g=='WT'","value":"circle"},"value":"square"},"fill":{"condition":{"test":"datum.g=='WT'","value":"white"},"value":"#58c4e6"}}},
{"data":{"name":"br"},"transform":[{"filter":"datum.p=='B'"}],"mark":{"type":"line","color":"black","strokeWidth":1.3},
"encoding":{"x":{"field":"c","type":"nominal","sort":["0","12"]},"xOffset":{"field":"g","type":"nominal","scale":{"domain":["WT","KO"],"paddingInner":0.35}},"y":{"field":"y","type":"quantitative"},"order":{"field":"o"}}},
{"data":{"name":"st"},"transform":[{"filter":"datum.p=='B'"}],"mark":{"type":"text","fontSize":14,"fontWeight":"bold","font":"Liberation Sans","baseline":"middle","color":"black"},
"encoding":{"x":{"field":"c","type":"nominal","sort":["0","12"]},"y":{"field":"y","type":"quantitative"},"text":{"field":"t"}}}
]},
{"width":177,"height":125,"title":{"text":"C","dx":93,"dy":10},
"resolve":{"scale":{"xOffset":"independent"}},
"layer":[
{"data":{"name":"bars"},"transform":[{"filter":"datum.p=='C'"}],"mark":{"type":"bar","stroke":"black","strokeWidth":1.5},
"encoding":{"x":{"field":"c","type":"nominal","sort":["eWAT","scWAT","Liver","BAT","Kidney"],"scale":{"range":[138,310],"paddingInner":0.3,"paddingOuter":0.15},"axis":{"title":null}},
"xOffset":{"field":"g","type":"nominal","scale":{"domain":["WT","KO"],"paddingInner":0.25}},
"y":{"field":"m","type":"quantitative","scale":{"domain":[0,2],"range":[125,1]},"axis":{"offset":-138,"values":[0,0.5,1,1.5,2],"format":".1f","title":["FGF21 mRNA expression","relative to housekeeping"],"titleFontSize":11.5}},
"fill":{"condition":{"test":"datum.g=='WT'","value":"#e8e8e8"},"value":"#1af0f0"}}},
{"data":{"name":"bars"},"transform":[{"filter":"datum.p=='C'"}],"mark":{"type":"rule","color":"black","strokeWidth":1.2},
"encoding":{"x":{"field":"c","type":"nominal","sort":["eWAT","scWAT","Liver","BAT","Kidney"]},"xOffset":{"field":"g","type":"nominal","scale":{"domain":["WT","KO"],"paddingInner":0.25}},"y":{"field":"lo","type":"quantitative"},"y2":{"field":"hi"}}},
{"data":{"name":"bars"},"transform":[{"filter":"datum.p=='C'"},{"fold":["lo","hi"],"as":["k","e"]}],"mark":{"type":"tick","orient":"horizontal","color":"black","thickness":1.2,"size":6},
"encoding":{"x":{"field":"c","type":"nominal","sort":["eWAT","scWAT","Liver","BAT","Kidney"]},"xOffset":{"field":"g","type":"nominal","scale":{"domain":["WT","KO"],"paddingInner":0.25}},"y":{"field":"e","type":"quantitative"}}},
{"data":{"name":"pts"},"transform":[{"filter":"datum.p=='C'"},{"window":[{"op":"row_number","as":"r"}],"groupby":["c","g"],"sort":[{"field":"v"}]},{"calculate":"datum.g+(datum.r%4)","as":"s"}],
"mark":{"type":"point","filled":true,"stroke":"black","strokeWidth":1,"size":24,"opacity":1},
"encoding":{"x":{"field":"c","type":"nominal","sort":["eWAT","scWAT","Liver","BAT","Kidney"]},"xOffset":{"field":"s","type":"nominal","scale":{"domain":["WT1","WT2","WT3","WT0","_","KO1","KO2","KO3","KO0"],"paddingInner":0,"paddingOuter":0}},"y":{"field":"v","type":"quantitative"},
"shape":{"condition":{"test":"datum.g=='WT'","value":"circle"},"value":"square"},"fill":{"condition":{"test":"datum.g=='WT'","value":"white"},"value":"#58c4e6"}}}
]},
{"width":117,"height":121,"title":{"text":"D","dx":124,"dy":1},
"resolve":{"scale":{"xOffset":"independent"}},
"layer":[
{"data":{"name":"bars"},"transform":[{"filter":"datum.p=='D'"}],"mark":{"type":"bar","stroke":"black","strokeWidth":1.5},
"encoding":{"x":{"field":"c","type":"nominal","sort":["0","12"],"scale":{"range":[161,273],"paddingInner":0.4,"paddingOuter":0.22},"axis":{"title":"Weeks on HFD","labelFontSize":9,"titleFontSize":10}},
"xOffset":{"field":"g","type":"nominal","scale":{"domain":["WT","KO"],"paddingInner":0.35}},
"y":{"field":"m","type":"quantitative","scale":{"domain":[0,8000],"range":[121,16]},"axis":{"offset":-161,"values":[0,2000,4000,6000,8000],"format":"d","title":"FGF21 (pg/ml)","labelFontSize":8,"titleFontSize":9}},
"fill":{"condition":{"test":"datum.g=='WT'","value":"#e8e8e8"},"value":"#1af0f0"}}},
{"data":{"name":"bars"},"transform":[{"filter":"datum.p=='D'"}],"mark":{"type":"rule","color":"black","strokeWidth":1.2},
"encoding":{"x":{"field":"c","type":"nominal","sort":["0","12"]},"xOffset":{"field":"g","type":"nominal","scale":{"domain":["WT","KO"],"paddingInner":0.35}},"y":{"field":"lo","type":"quantitative"},"y2":{"field":"hi"}}},
{"data":{"name":"bars"},"transform":[{"filter":"datum.p=='D'"},{"fold":["lo","hi"],"as":["k","e"]}],"mark":{"type":"tick","orient":"horizontal","color":"black","thickness":1.2,"size":7},
"encoding":{"x":{"field":"c","type":"nominal","sort":["0","12"]},"xOffset":{"field":"g","type":"nominal","scale":{"domain":["WT","KO"],"paddingInner":0.35}},"y":{"field":"e","type":"quantitative"}}},
{"data":{"name":"pts"},"transform":[{"filter":"datum.p=='D'"},{"window":[{"op":"row_number","as":"r"}],"groupby":["c","g"],"sort":[{"field":"v"}]},{"calculate":"datum.g+(datum.r%4)","as":"s"}],
"mark":{"type":"point","filled":true,"stroke":"black","strokeWidth":1,"size":26,"opacity":1},
"encoding":{"x":{"field":"c","type":"nominal","sort":["0","12"]},"xOffset":{"field":"s","type":"nominal","scale":{"domain":["WT1","WT2","WT3","WT0","_","KO1","KO2","KO3","KO0"],"paddingInner":0,"paddingOuter":0}},"y":{"field":"v","type":"quantitative"},
"shape":{"condition":{"test":"datum.g=='WT'","value":"circle"},"value":"square"},"fill":{"condition":{"test":"datum.g=='WT'","value":"white"},"value":"#58c4e6"}}},
{"data":{"name":"br"},"transform":[{"filter":"datum.p=='D'"}],"mark":{"type":"line","color":"black","strokeWidth":1.3},
"encoding":{"x":{"field":"c","type":"nominal","sort":["0","12"]},"xOffset":{"field":"g","type":"nominal","scale":{"domain":["WT","KO"],"paddingInner":0.35}},"y":{"field":"y","type":"quantitative"},"order":{"field":"o"}}},
{"data":{"name":"st"},"transform":[{"filter":"datum.p=='D'"}],"mark":{"type":"text","fontSize":14,"fontWeight":"bold","font":"Liberation Sans","baseline":"middle","color":"black"},
"encoding":{"x":{"field":"c","type":"nominal","sort":["0","12"]},"y":{"field":"y","type":"quantitative"},"text":{"field":"t"}}}
]},
{"width":105,"height":1,"data":{"values":[]},"mark":"point","encoding":{}},
{"width":72,"height":1,"data":{"values":[]},"mark":"point","encoding":{}},

{"width":170,"height":186,"title":{"text":"E","dx":17,"dy":65},
"layer":[
{"data":{"name":"ts"},"transform":[{"filter":"datum.p=='E'"}],"mark":{"type":"rule","color":"#666","strokeWidth":1},
"encoding":{"x":{"field":"t","type":"quantitative","scale":{"domain":[-1,22],"range":[42,209],"nice":false,"zero":false},"axis":{"values":[0,4,8,12,16,20],"format":"d","title":"Weeks on HFD"}},
"y":{"field":"m","type":"quantitative","scale":{"domain":[20,60],"range":[186,70],"zero":false,"nice":false},"axis":{"offset":-42,"values":[20,30,40,50,60],"format":"d","title":"Body weight (g)"}},"y2":{"field":"e"}}},
{"data":{"name":"ts"},"transform":[{"filter":"datum.p=='E'"}],"mark":{"type":"tick","orient":"horizontal","color":"#666","thickness":1,"size":5},
"encoding":{"x":{"field":"t","type":"quantitative"},"y":{"field":"e","type":"quantitative"}}},
{"data":{"name":"ts"},"transform":[{"filter":"datum.p=='E'"}],"mark":{"type":"point","filled":true,"strokeWidth":1,"size":30,"opacity":1},
"encoding":{"x":{"field":"t","type":"quantitative"},"y":{"field":"m","type":"quantitative"},
"shape":{"field":"g","type":"nominal","scale":{"domain":["WT","KO"],"range":["circle","square"]},"legend":{"title":null,"orient":"none","legendX":103,"legendY":137,"labelExpr":"datum.label=='WT' ? 'WT (n=18)' : 'Alb-GDF15ᴷᴼ (n=19)'","labelFontSize":11,"labelFont":"Liberation Sans","labelFontWeight":"normal","labelColor":"black","symbolStrokeWidth":1,"symbolSize":50,"rowPadding":10}},
"fill":{"field":"g","type":"nominal","scale":{"domain":["WT","KO"],"range":["white","#1cb3b3"]},"legend":{"title":null,"orient":"none","legendX":103,"legendY":137,"labelExpr":"datum.label=='WT' ? 'WT (n=18)' : 'Alb-GDF15ᴷᴼ (n=19)'","labelFontSize":11,"labelFont":"Liberation Sans","labelFontWeight":"normal","labelColor":"black","symbolStrokeWidth":1,"symbolSize":50,"rowPadding":10}},
"stroke":{"field":"g","type":"nominal","scale":{"domain":["WT","KO"],"range":["black","black"]},"legend":{"title":null,"orient":"none","legendX":103,"legendY":137,"labelExpr":"datum.label=='WT' ? 'WT (n=18)' : 'Alb-GDF15ᴷᴼ (n=19)'","labelFontSize":11,"labelFont":"Liberation Sans","labelFontWeight":"normal","labelColor":"black","symbolStrokeWidth":1,"symbolSize":50,"rowPadding":10}}}}
]},
{"width":122,"height":182,
"layer":[
{"data":{"name":"bars"},"transform":[{"filter":"datum.p=='Ei'"}],"mark":{"type":"bar","stroke":"black","strokeWidth":1.5},
"encoding":{"x":{"field":"g","type":"nominal","sort":["WT","KO"],"scale":{"domain":["WT","KO"],"range":[74,132],"paddingInner":0.32,"paddingOuter":0.32},"axis":{"title":null,"labelFontSize":7,"tickSize":3}},
"y":{"field":"m","type":"quantitative","scale":{"domain":[0,80],"range":[182,92]},"axis":{"offset":-74,"values":[0,20,40,60,80],"format":"d","title":"Final body weight (g)","labelFontSize":7,"titleFontSize":7,"tickSize":3}},
"fill":{"condition":{"test":"datum.g=='WT'","value":"#e8e8e8"},"value":"#1af0f0"}}},
{"data":{"name":"bars"},"transform":[{"filter":"datum.p=='Ei'"}],"mark":{"type":"rule","color":"black","strokeWidth":1},
"encoding":{"x":{"field":"g","type":"nominal","sort":["WT","KO"]},"y":{"field":"lo","type":"quantitative"},"y2":{"field":"hi"}}},
{"data":{"name":"bars"},"transform":[{"filter":"datum.p=='Ei'"},{"fold":["lo","hi"],"as":["k","e"]}],"mark":{"type":"tick","orient":"horizontal","color":"black","thickness":1,"size":7},
"encoding":{"x":{"field":"g","type":"nominal","sort":["WT","KO"]},"y":{"field":"e","type":"quantitative"}}},
{"data":{"name":"pts"},"transform":[{"filter":"datum.p=='Ei'"},{"window":[{"op":"row_number","as":"r"}],"groupby":["g"],"sort":[{"field":"v"}]},{"calculate":"''+(datum.r%4)","as":"s"}],
"mark":{"type":"point","filled":true,"stroke":"black","strokeWidth":0.8,"size":14,"opacity":1},
"encoding":{"x":{"field":"g","type":"nominal","sort":["WT","KO"]},"xOffset":{"field":"s","type":"nominal","scale":{"domain":["1","2","3","0"],"paddingOuter":0.3}},"y":{"field":"v","type":"quantitative"},
"shape":{"condition":{"test":"datum.g=='WT'","value":"circle"},"value":"square"},"fill":{"condition":{"test":"datum.g=='WT'","value":"white"},"value":"#58c4e6"}}},
{"data":{"name":"br"},"transform":[{"filter":"datum.p=='Ei'"}],"mark":{"type":"line","color":"black","strokeWidth":1},
"encoding":{"x":{"field":"g","type":"nominal","sort":["WT","KO"]},"y":{"field":"y","type":"quantitative"},"order":{"field":"o"}}},
{"data":{"name":"st"},"transform":[{"filter":"datum.p=='Ei'"}],"mark":{"type":"text","fontSize":11,"fontWeight":"bold","font":"Liberation Sans","baseline":"middle","color":"black"},
"encoding":{"x":{"datum":"WT","type":"nominal","bandPosition":1.24},"y":{"field":"y","type":"quantitative"},"text":{"field":"t"}}}
]},
{"width":177,"height":190,"title":{"text":"F","dx":26,"dy":65},
"layer":[
{"data":{"name":"ts"},"transform":[{"filter":"datum.p=='F'"}],"mark":{"type":"rule","color":"#666","strokeWidth":1},
"encoding":{"x":{"field":"t","type":"quantitative","scale":{"domain":[-1,23],"range":[65,236],"nice":false,"zero":false},"axis":{"values":[0,4,8,12,16,20],"format":"d","title":"Weeks on HFD"}},
"y":{"field":"m","type":"quantitative","scale":{"domain":[0,200],"range":[190,75],"nice":false},"axis":{"offset":-65,"values":[0,50,100,150,200],"format":"d","title":"% Body weight gain"}},"y2":{"field":"e"}}},
{"data":{"name":"ts"},"transform":[{"filter":"datum.p=='F'"}],"mark":{"type":"tick","orient":"horizontal","color":"#666","thickness":1,"size":5},
"encoding":{"x":{"field":"t","type":"quantitative"},"y":{"field":"e","type":"quantitative"}}},
{"data":{"name":"ts"},"transform":[{"filter":"datum.p=='F'"}],"mark":{"type":"point","filled":true,"stroke":"black","strokeWidth":1,"size":30,"opacity":1},
"encoding":{"x":{"field":"t","type":"quantitative"},"y":{"field":"m","type":"quantitative"},
"shape":{"condition":{"test":"datum.g=='WT'","value":"circle"},"value":"square"},"fill":{"condition":{"test":"datum.g=='WT'","value":"white"},"value":"#1cb3b3"}}}
]},
{"width":117,"height":183,
"layer":[
{"data":{"name":"bars"},"transform":[{"filter":"datum.p=='Fi'"}],"mark":{"type":"bar","stroke":"black","strokeWidth":1.5},
"encoding":{"x":{"field":"g","type":"nominal","sort":["WT","KO"],"scale":{"domain":["WT","KO"],"range":[84,147],"paddingInner":0.33,"paddingOuter":0.48},"axis":{"title":null,"labelFontSize":7,"tickSize":3}},
"y":{"field":"m","type":"quantitative","scale":{"domain":[0,200],"range":[183,96]},"axis":{"offset":-84,"values":[0,50,100,150,200],"format":"d","title":"Final % body weight gain","labelFontSize":7,"titleFontSize":7,"tickSize":3}},
"fill":{"condition":{"test":"datum.g=='WT'","value":"#e8e8e8"},"value":"#1af0f0"}}},
{"data":{"name":"bars"},"transform":[{"filter":"datum.p=='Fi'"}],"mark":{"type":"rule","color":"black","strokeWidth":1},
"encoding":{"x":{"field":"g","type":"nominal","sort":["WT","KO"]},"y":{"field":"lo","type":"quantitative"},"y2":{"field":"hi"}}},
{"data":{"name":"bars"},"transform":[{"filter":"datum.p=='Fi'"},{"fold":["lo","hi"],"as":["k","e"]}],"mark":{"type":"tick","orient":"horizontal","color":"black","thickness":1,"size":7},
"encoding":{"x":{"field":"g","type":"nominal","sort":["WT","KO"]},"y":{"field":"e","type":"quantitative"}}},
{"data":{"name":"pts"},"transform":[{"filter":"datum.p=='Fi'"},{"window":[{"op":"row_number","as":"r"}],"groupby":["g"],"sort":[{"field":"v"}]},{"calculate":"''+(datum.r%4)","as":"s"}],
"mark":{"type":"point","filled":true,"stroke":"black","strokeWidth":0.8,"size":14,"opacity":1},
"encoding":{"x":{"field":"g","type":"nominal","sort":["WT","KO"]},"xOffset":{"field":"s","type":"nominal","scale":{"domain":["1","2","3","0"],"paddingOuter":0.3}},"y":{"field":"v","type":"quantitative"},
"shape":{"condition":{"test":"datum.g=='WT'","value":"circle"},"value":"square"},"fill":{"condition":{"test":"datum.g=='WT'","value":"white"},"value":"#58c4e6"}}},
{"data":{"name":"br"},"transform":[{"filter":"datum.p=='Fi'"}],"mark":{"type":"line","color":"black","strokeWidth":1},
"encoding":{"x":{"field":"g","type":"nominal","sort":["WT","KO"]},"y":{"field":"y","type":"quantitative"},"order":{"field":"o"}}},
{"data":{"name":"st"},"transform":[{"filter":"datum.p=='Fi'"}],"mark":{"type":"text","fontSize":11,"fontWeight":"bold","font":"Liberation Sans","baseline":"middle","color":"black"},
"encoding":{"x":{"datum":"WT","type":"nominal","bandPosition":1.25},"y":{"field":"y","type":"quantitative"},"text":{"field":"t"}}}
]},
{"width":105,"height":1,"data":{"values":[]},"mark":"point","encoding":{}},
{"width":72,"height":1,"data":{"values":[]},"mark":"point","encoding":{}},

{"width":170,"height":196,"title":{"text":"G","dx":12,"dy":62},
"resolve":{"scale":{"xOffset":"independent"}},
"layer":[
{"data":{"name":"bars"},"transform":[{"filter":"datum.p=='G'"}],"mark":{"type":"bar","stroke":"black","strokeWidth":1.5},
"encoding":{"x":{"field":"c","type":"nominal","sort":["eWAT","scWAT","Liver","BAT"],"scale":{"range":[42,220],"paddingInner":0.38,"paddingOuter":0.13},"axis":{"title":null}},
"xOffset":{"field":"g","type":"nominal","scale":{"domain":["WT","KO"],"paddingInner":0.28}},
"y":{"field":"m","type":"quantitative","scale":{"domain":[0,5],"range":[196,76]},"axis":{"offset":-42,"values":[0,1,2,3,4,5],"format":"d","title":"Tissue weight (g)"}},
"fill":{"condition":{"test":"datum.g=='WT'","value":"#e8e8e8"},"value":"#1af0f0"}}},
{"data":{"name":"bars"},"transform":[{"filter":"datum.p=='G'"}],"mark":{"type":"rule","color":"black","strokeWidth":1.2},
"encoding":{"x":{"field":"c","type":"nominal","sort":["eWAT","scWAT","Liver","BAT"]},"xOffset":{"field":"g","type":"nominal","scale":{"domain":["WT","KO"],"paddingInner":0.28}},"y":{"field":"lo","type":"quantitative"},"y2":{"field":"hi"}}},
{"data":{"name":"bars"},"transform":[{"filter":"datum.p=='G'"},{"fold":["lo","hi"],"as":["k","e"]}],"mark":{"type":"tick","orient":"horizontal","color":"black","thickness":1.2,"size":7},
"encoding":{"x":{"field":"c","type":"nominal","sort":["eWAT","scWAT","Liver","BAT"]},"xOffset":{"field":"g","type":"nominal","scale":{"domain":["WT","KO"],"paddingInner":0.28}},"y":{"field":"e","type":"quantitative"}}},
{"data":{"name":"pts"},"transform":[{"filter":"datum.p=='G'"},{"window":[{"op":"row_number","as":"r"}],"groupby":["c","g"],"sort":[{"field":"v"}]},{"calculate":"datum.g+(datum.r%4)","as":"s"}],
"mark":{"type":"point","filled":true,"stroke":"black","strokeWidth":1,"size":26,"opacity":1},
"encoding":{"x":{"field":"c","type":"nominal","sort":["eWAT","scWAT","Liver","BAT"]},"xOffset":{"field":"s","type":"nominal","scale":{"domain":["WT1","WT2","WT3","WT0","_","KO1","KO2","KO3","KO0"],"paddingInner":0,"paddingOuter":0}},"y":{"field":"v","type":"quantitative"},
"shape":{"condition":{"test":"datum.g=='WT'","value":"circle"},"value":"square"},"fill":{"condition":{"test":"datum.g=='WT'","value":"white"},"value":"#58c4e6"}}},
{"data":{"name":"br"},"transform":[{"filter":"datum.p=='G'"}],"mark":{"type":"line","color":"black","strokeWidth":1.3},
"encoding":{"x":{"field":"c","type":"nominal","sort":["eWAT","scWAT","Liver","BAT"]},"xOffset":{"field":"g","type":"nominal","scale":{"domain":["WT","KO"],"paddingInner":0.28}},"y":{"field":"y","type":"quantitative"},"order":{"field":"o"}}},
{"data":{"name":"st"},"transform":[{"filter":"datum.p=='G'"}],"mark":{"type":"text","fontSize":14,"fontWeight":"bold","font":"Liberation Sans","baseline":"middle","color":"black"},
"encoding":{"x":{"field":"c","type":"nominal","sort":["eWAT","scWAT","Liver","BAT"]},"y":{"field":"y","type":"quantitative"},"text":{"field":"t"}}}
]},
{"width":122,"height":198,"title":{"text":"H","dx":57,"dy":62},
"layer":[
{"data":{"name":"bars"},"transform":[{"filter":"datum.p=='Lep'"}],"mark":{"type":"bar","stroke":"black","strokeWidth":1.5},
"encoding":{"x":{"field":"g","type":"nominal","sort":["WT","KO"],"scale":{"domain":["WT","KO"],"range":[93,165],"paddingInner":0.33,"paddingOuter":0.37},"axis":{"title":null,"labelFontSize":9}},
"y":{"field":"m","type":"quantitative","scale":{"domain":[0,150000],"range":[198,94]},"axis":{"offset":-93,"values":[0,50000,100000,150000],"format":"d","title":"Leptin (pg/ml)","labelFontSize":8,"titleFontSize":9}},
"fill":{"condition":{"test":"datum.g=='WT'","value":"#e8e8e8"},"value":"#1af0f0"}}},
{"data":{"name":"bars"},"transform":[{"filter":"datum.p=='Lep'"}],"mark":{"type":"rule","color":"black","strokeWidth":1.2},
"encoding":{"x":{"field":"g","type":"nominal","sort":["WT","KO"]},"y":{"field":"lo","type":"quantitative"},"y2":{"field":"hi"}}},
{"data":{"name":"bars"},"transform":[{"filter":"datum.p=='Lep'"},{"fold":["lo","hi"],"as":["k","e"]}],"mark":{"type":"tick","orient":"horizontal","color":"black","thickness":1.2,"size":8},
"encoding":{"x":{"field":"g","type":"nominal","sort":["WT","KO"]},"y":{"field":"e","type":"quantitative"}}},
{"data":{"name":"pts"},"transform":[{"filter":"datum.p=='Lep'"},{"window":[{"op":"row_number","as":"r"}],"groupby":["g"],"sort":[{"field":"v"}]},{"calculate":"''+(datum.r%4)","as":"s"}],
"mark":{"type":"point","filled":true,"stroke":"black","strokeWidth":1,"size":30,"opacity":1},
"encoding":{"x":{"field":"g","type":"nominal","sort":["WT","KO"]},"xOffset":{"field":"s","type":"nominal","scale":{"domain":["1","2","3","0"],"paddingOuter":0.3}},"y":{"field":"v","type":"quantitative"},
"shape":{"condition":{"test":"datum.g=='WT'","value":"circle"},"value":"square"},"fill":{"condition":{"test":"datum.g=='WT'","value":"white"},"value":"#58c4e6"}}}
]},
{"width":177,"height":197,
"layer":[
{"data":{"name":"bars"},"transform":[{"filter":"datum.p=='TG'"}],"mark":{"type":"bar","stroke":"black","strokeWidth":1.5},
"encoding":{"x":{"field":"g","type":"nominal","sort":["WT","KO"],"scale":{"domain":["WT","KO"],"range":[71,148],"paddingInner":0.33,"paddingOuter":0.45},"axis":{"title":null,"labelFontSize":9}},
"y":{"field":"m","type":"quantitative","scale":{"domain":[0,2.5],"range":[197,94]},"axis":{"offset":-71,"values":[0,0.5,1,1.5,2,2.5],"format":".1f","title":"TG (mmol/L)","labelFontSize":8,"titleFontSize":9}},
"fill":{"condition":{"test":"datum.g=='WT'","value":"#e8e8e8"},"value":"#1af0f0"}}},
{"data":{"name":"bars"},"transform":[{"filter":"datum.p=='TG'"}],"mark":{"type":"rule","color":"black","strokeWidth":1.2},
"encoding":{"x":{"field":"g","type":"nominal","sort":["WT","KO"]},"y":{"field":"lo","type":"quantitative"},"y2":{"field":"hi"}}},
{"data":{"name":"bars"},"transform":[{"filter":"datum.p=='TG'"},{"fold":["lo","hi"],"as":["k","e"]}],"mark":{"type":"tick","orient":"horizontal","color":"black","thickness":1.2,"size":8},
"encoding":{"x":{"field":"g","type":"nominal","sort":["WT","KO"]},"y":{"field":"e","type":"quantitative"}}},
{"data":{"name":"pts"},"transform":[{"filter":"datum.p=='TG'"},{"window":[{"op":"row_number","as":"r"}],"groupby":["g"],"sort":[{"field":"v"}]},{"calculate":"''+(datum.r%4)","as":"s"}],
"mark":{"type":"point","filled":true,"stroke":"black","strokeWidth":1,"size":30,"opacity":1},
"encoding":{"x":{"field":"g","type":"nominal","sort":["WT","KO"]},"xOffset":{"field":"s","type":"nominal","scale":{"domain":["1","2","3","0"],"paddingOuter":0.3}},"y":{"field":"v","type":"quantitative"},
"shape":{"condition":{"test":"datum.g=='WT'","value":"circle"},"value":"square"},"fill":{"condition":{"test":"datum.g=='WT'","value":"white"},"value":"#58c4e6"}}},
{"data":{"name":"br"},"transform":[{"filter":"datum.p=='TG'"}],"mark":{"type":"line","color":"black","strokeWidth":1.2},
"encoding":{"x":{"field":"g","type":"nominal","sort":["WT","KO"]},"y":{"field":"y","type":"quantitative"},"order":{"field":"o"}}},
{"data":{"name":"st"},"transform":[{"filter":"datum.p=='TG'"}],"mark":{"type":"text","fontSize":13,"fontWeight":"bold","font":"Liberation Sans","baseline":"middle","color":"black"},
"encoding":{"x":{"datum":"WT","type":"nominal","bandPosition":1.25},"y":{"field":"y","type":"quantitative"},"text":{"field":"t"}}}
]},
{"width":117,"height":197,
"layer":[
{"data":{"name":"bars"},"transform":[{"filter":"datum.p=='Chol'"}],"mark":{"type":"bar","stroke":"black","strokeWidth":1.5},
"encoding":{"x":{"field":"g","type":"nominal","sort":["WT","KO"],"scale":{"domain":["WT","KO"],"range":[0,68],"paddingInner":0.27,"paddingOuter":0.27},"axis":{"title":null,"labelFontSize":9}},
"y":{"field":"m","type":"quantitative","scale":{"domain":[4,9],"range":[197,93],"zero":false},"axis":{"values":[4,5,6,7,8,9],"format":"d","title":"Cholesterol (mmol/L)","labelFontSize":8,"titleFontSize":9}},
"y2":{"datum":4},
"fill":{"condition":{"test":"datum.g=='WT'","value":"#e8e8e8"},"value":"#1af0f0"}}},
{"data":{"name":"bars"},"transform":[{"filter":"datum.p=='Chol'"}],"mark":{"type":"rule","color":"black","strokeWidth":1.2},
"encoding":{"x":{"field":"g","type":"nominal","sort":["WT","KO"]},"y":{"field":"lo","type":"quantitative"},"y2":{"field":"hi"}}},
{"data":{"name":"bars"},"transform":[{"filter":"datum.p=='Chol'"},{"fold":["lo","hi"],"as":["k","e"]}],"mark":{"type":"tick","orient":"horizontal","color":"black","thickness":1.2,"size":8},
"encoding":{"x":{"field":"g","type":"nominal","sort":["WT","KO"]},"y":{"field":"e","type":"quantitative"}}},
{"data":{"name":"pts"},"transform":[{"filter":"datum.p=='Chol'"},{"window":[{"op":"row_number","as":"r"}],"groupby":["g"],"sort":[{"field":"v"}]},{"calculate":"''+(datum.r%4)","as":"s"}],
"mark":{"type":"point","filled":true,"stroke":"black","strokeWidth":1,"size":30,"opacity":1},
"encoding":{"x":{"field":"g","type":"nominal","sort":["WT","KO"]},"xOffset":{"field":"s","type":"nominal","scale":{"domain":["1","2","3","0"],"paddingOuter":0.3}},"y":{"field":"v","type":"quantitative"},
"shape":{"condition":{"test":"datum.g=='WT'","value":"circle"},"value":"square"},"fill":{"condition":{"test":"datum.g=='WT'","value":"white"},"value":"#58c4e6"}}},
{"data":{"name":"br"},"transform":[{"filter":"datum.p=='Chol'"}],"mark":{"type":"line","color":"black","strokeWidth":1.2},
"encoding":{"x":{"field":"g","type":"nominal","sort":["WT","KO"]},"y":{"field":"y","type":"quantitative"},"order":{"field":"o"}}},
{"data":{"name":"st"},"transform":[{"filter":"datum.p=='Chol'"}],"mark":{"type":"text","fontSize":13,"fontWeight":"bold","font":"Liberation Sans","baseline":"middle","color":"black"},
"encoding":{"x":{"datum":"WT","type":"nominal","bandPosition":1.2},"y":{"field":"y","type":"quantitative"},"text":{"field":"t"}}}
]},
{"width":105,"height":197,
"layer":[
{"data":{"name":"bars"},"transform":[{"filter":"datum.p=='ALT'"}],"mark":{"type":"bar","stroke":"black","strokeWidth":1.5},
"encoding":{"x":{"field":"g","type":"nominal","sort":["WT","KO"],"scale":{"domain":["WT","KO"],"range":[0,71],"paddingInner":0.29,"paddingOuter":0.29},"axis":{"title":null,"labelFontSize":9}},
"y":{"field":"m","type":"quantitative","scale":{"domain":[0,1000],"range":[197,90]},"axis":{"values":[0,200,400,600,800,1000],"format":"d","title":"ALT (U/L)","labelFontSize":8,"titleFontSize":9}},
"fill":{"condition":{"test":"datum.g=='WT'","value":"#e8e8e8"},"value":"#1af0f0"}}},
{"data":{"name":"bars"},"transform":[{"filter":"datum.p=='ALT'"}],"mark":{"type":"rule","color":"black","strokeWidth":1.2},
"encoding":{"x":{"field":"g","type":"nominal","sort":["WT","KO"]},"y":{"field":"lo","type":"quantitative"},"y2":{"field":"hi"}}},
{"data":{"name":"bars"},"transform":[{"filter":"datum.p=='ALT'"},{"fold":["lo","hi"],"as":["k","e"]}],"mark":{"type":"tick","orient":"horizontal","color":"black","thickness":1.2,"size":8},
"encoding":{"x":{"field":"g","type":"nominal","sort":["WT","KO"]},"y":{"field":"e","type":"quantitative"}}},
{"data":{"name":"pts"},"transform":[{"filter":"datum.p=='ALT'"},{"window":[{"op":"row_number","as":"r"}],"groupby":["g"],"sort":[{"field":"v"}]},{"calculate":"''+(datum.r%4)","as":"s"}],
"mark":{"type":"point","filled":true,"stroke":"black","strokeWidth":1,"size":30,"opacity":1},
"encoding":{"x":{"field":"g","type":"nominal","sort":["WT","KO"]},"xOffset":{"field":"s","type":"nominal","scale":{"domain":["1","2","3","0"],"paddingOuter":0.3}},"y":{"field":"v","type":"quantitative"},
"shape":{"condition":{"test":"datum.g=='WT'","value":"circle"},"value":"square"},"fill":{"condition":{"test":"datum.g=='WT'","value":"white"},"value":"#58c4e6"}}},
{"data":{"name":"br"},"transform":[{"filter":"datum.p=='ALT'"}],"mark":{"type":"line","color":"black","strokeWidth":1.2},
"encoding":{"x":{"field":"g","type":"nominal","sort":["WT","KO"]},"y":{"field":"y","type":"quantitative"},"order":{"field":"o"}}},
{"data":{"name":"st"},"transform":[{"filter":"datum.p=='ALT'"}],"mark":{"type":"text","fontSize":13,"fontWeight":"bold","font":"Liberation Sans","baseline":"middle","color":"black"},
"encoding":{"x":{"datum":"WT","type":"nominal","bandPosition":1.2},"y":{"field":"y","type":"quantitative"},"text":{"field":"t"}}}
]},
{"width":72,"height":196,
"layer":[
{"data":{"name":"bars"},"transform":[{"filter":"datum.p=='AST'"}],"mark":{"type":"bar","stroke":"black","strokeWidth":1.5},
"encoding":{"x":{"field":"g","type":"nominal","sort":["WT","KO"],"scale":{"domain":["WT","KO"],"range":[0,72],"paddingInner":0.32,"paddingOuter":0.32},"axis":{"title":null,"labelFontSize":9}},
"y":{"field":"m","type":"quantitative","scale":{"domain":[0,600],"range":[196,91]},"axis":{"values":[0,200,400,600],"format":"d","title":"AST (U/L)","labelFontSize":8,"titleFontSize":9}},
"fill":{"condition":{"test":"datum.g=='WT'","value":"#e8e8e8"},"value":"#1af0f0"}}},
{"data":{"name":"bars"},"transform":[{"filter":"datum.p=='AST'"}],"mark":{"type":"rule","color":"black","strokeWidth":1.2},
"encoding":{"x":{"field":"g","type":"nominal","sort":["WT","KO"]},"y":{"field":"lo","type":"quantitative"},"y2":{"field":"hi"}}},
{"data":{"name":"bars"},"transform":[{"filter":"datum.p=='AST'"},{"fold":["lo","hi"],"as":["k","e"]}],"mark":{"type":"tick","orient":"horizontal","color":"black","thickness":1.2,"size":8},
"encoding":{"x":{"field":"g","type":"nominal","sort":["WT","KO"]},"y":{"field":"e","type":"quantitative"}}},
{"data":{"name":"pts"},"transform":[{"filter":"datum.p=='AST'"},{"window":[{"op":"row_number","as":"r"}],"groupby":["g"],"sort":[{"field":"v"}]},{"calculate":"''+(datum.r%4)","as":"s"}],
"mark":{"type":"point","filled":true,"stroke":"black","strokeWidth":1,"size":30,"opacity":1},
"encoding":{"x":{"field":"g","type":"nominal","sort":["WT","KO"]},"xOffset":{"field":"s","type":"nominal","scale":{"domain":["1","2","3","0"],"paddingOuter":0.3}},"y":{"field":"v","type":"quantitative"},
"shape":{"condition":{"test":"datum.g=='WT'","value":"circle"},"value":"square"},"fill":{"condition":{"test":"datum.g=='WT'","value":"white"},"value":"#58c4e6"}}},
{"data":{"name":"br"},"transform":[{"filter":"datum.p=='AST'"}],"mark":{"type":"line","color":"black","strokeWidth":1.2},
"encoding":{"x":{"field":"g","type":"nominal","sort":["WT","KO"]},"y":{"field":"y","type":"quantitative"},"order":{"field":"o"}}},
{"data":{"name":"st"},"transform":[{"filter":"datum.p=='AST'"}],"mark":{"type":"text","fontSize":13,"fontWeight":"bold","font":"Liberation Sans","baseline":"middle","color":"black"},
"encoding":{"x":{"datum":"WT","type":"nominal","bandPosition":1.23},"y":{"field":"y","type":"quantitative"},"text":{"field":"t"}}}
]},

{"width":170,"height":175,"title":{"text":"I","dx":3,"dy":54},
"layer":[
{"data":{"name":"bars"},"transform":[{"filter":"datum.p=='I'"}],"mark":{"type":"bar","stroke":"black","strokeWidth":1.5},
"encoding":{"x":{"field":"g","type":"nominal","sort":["WT","KO"],"scale":{"domain":["WT","KO"],"range":[47,127],"paddingInner":0.39,"paddingOuter":0.4},"axis":{"title":null}},
"y":{"field":"m","type":"quantitative","scale":{"domain":[0,1],"range":[175,60]},"axis":{"offset":-47,"values":[0,0.2,0.4,0.6,0.8,1],"format":".1f","title":"Total hepatic lipid content (g)"}},
"fill":{"condition":{"test":"datum.g=='WT'","value":"#e8e8e8"},"value":"#1af0f0"}}},
{"data":{"name":"bars"},"transform":[{"filter":"datum.p=='I'"}],"mark":{"type":"rule","color":"black","strokeWidth":1.2},
"encoding":{"x":{"field":"g","type":"nominal","sort":["WT","KO"]},"y":{"field":"lo","type":"quantitative"},"y2":{"field":"hi"}}},
{"data":{"name":"bars"},"transform":[{"filter":"datum.p=='I'"},{"fold":["lo","hi"],"as":["k","e"]}],"mark":{"type":"tick","orient":"horizontal","color":"black","thickness":1.2,"size":8},
"encoding":{"x":{"field":"g","type":"nominal","sort":["WT","KO"]},"y":{"field":"e","type":"quantitative"}}},
{"data":{"name":"pts"},"transform":[{"filter":"datum.p=='I'"},{"window":[{"op":"row_number","as":"r"}],"groupby":["g"],"sort":[{"field":"v"}]},{"calculate":"''+(datum.r%4)","as":"s"}],
"mark":{"type":"point","filled":true,"stroke":"black","strokeWidth":1,"size":34,"opacity":1},
"encoding":{"x":{"field":"g","type":"nominal","sort":["WT","KO"]},"xOffset":{"field":"s","type":"nominal","scale":{"domain":["1","2","3","0"],"paddingOuter":0.3}},"y":{"field":"v","type":"quantitative"},
"shape":{"condition":{"test":"datum.g=='WT'","value":"circle"},"value":"square"},"fill":{"condition":{"test":"datum.g=='WT'","value":"white"},"value":"#58c4e6"}}},
{"data":{"name":"br"},"transform":[{"filter":"datum.p=='I'"}],"mark":{"type":"line","color":"black","strokeWidth":1.2},
"encoding":{"x":{"field":"g","type":"nominal","sort":["WT","KO"]},"y":{"field":"y","type":"quantitative"},"order":{"field":"o"}}},
{"data":{"name":"st"},"transform":[{"filter":"datum.p=='I'"}],"mark":{"type":"text","fontSize":14,"fontWeight":"bold","font":"Liberation Sans","baseline":"middle","color":"black"},
"encoding":{"x":{"datum":"WT","type":"nominal","bandPosition":1.32},"y":{"field":"y","type":"quantitative"},"text":{"field":"t"}}}
]},
{"width":122,"height":170,"title":{"text":"J","dx":-28,"dy":54},
"layer":[
{"data":{"name":"ts"},"transform":[{"filter":"datum.p=='J'"}],"mark":{"type":"rule","color":"#666","strokeWidth":1},
"encoding":{"x":{"field":"t","type":"quantitative","scale":{"domain":[-5,125],"range":[0,178],"nice":false,"zero":false},"axis":{"values":[0,30,60,90,120],"format":"d","title":"Time (min)"}},
"y":{"field":"m","type":"quantitative","scale":{"domain":[0,50],"range":[170,61],"nice":false},"axis":{"values":[0,10,20,30,40,50],"format":"d","title":["ipGTT","Glucose (mM)"]}},"y2":{"field":"e"}}},
{"data":{"name":"ts"},"transform":[{"filter":"datum.p=='J'"}],"mark":{"type":"tick","orient":"horizontal","color":"#666","thickness":1,"size":6},
"encoding":{"x":{"field":"t","type":"quantitative"},"y":{"field":"e","type":"quantitative"}}},
{"data":{"name":"ts"},"transform":[{"filter":"datum.p=='J'"}],"mark":{"type":"line","color":"#555","strokeWidth":1},
"encoding":{"x":{"field":"t","type":"quantitative"},"y":{"field":"m","type":"quantitative"},"detail":{"field":"g"}}},
{"data":{"name":"ts"},"transform":[{"filter":"datum.p=='J'"}],"mark":{"type":"point","filled":true,"strokeWidth":1,"size":34,"opacity":1},
"encoding":{"x":{"field":"t","type":"quantitative"},"y":{"field":"m","type":"quantitative"},
"shape":{"field":"g","type":"nominal","scale":{"domain":["WT","KO"],"range":["circle","square"]},"legend":{"title":null,"orient":"none","legendX":10,"legendY":127,"labelExpr":"datum.label=='WT' ? 'WT (n=15)' : 'Alb-GDF15ᴷᴼ (n=13)'","labelFontSize":11,"labelFont":"Liberation Sans","labelFontWeight":"normal","labelColor":"black","symbolStrokeWidth":1,"symbolSize":45,"rowPadding":4}},
"fill":{"field":"g","type":"nominal","scale":{"domain":["WT","KO"],"range":["white","#1cb3b3"]},"legend":{"title":null,"orient":"none","legendX":10,"legendY":127,"labelExpr":"datum.label=='WT' ? 'WT (n=15)' : 'Alb-GDF15ᴷᴼ (n=13)'","labelFontSize":11,"labelFont":"Liberation Sans","labelFontWeight":"normal","labelColor":"black","symbolStrokeWidth":1,"symbolSize":45,"rowPadding":4}},
"stroke":{"field":"g","type":"nominal","scale":{"domain":["WT","KO"],"range":["black","black"]},"legend":{"title":null,"orient":"none","legendX":10,"legendY":127,"labelExpr":"datum.label=='WT' ? 'WT (n=15)' : 'Alb-GDF15ᴷᴼ (n=13)'","labelFontSize":11,"labelFont":"Liberation Sans","labelFontWeight":"normal","labelColor":"black","symbolStrokeWidth":1,"symbolSize":45,"rowPadding":4}}}}
]},
{"width":177,"height":176,
"layer":[
{"data":{"name":"bars"},"transform":[{"filter":"datum.p=='Ji'"}],"mark":{"type":"bar","stroke":"black","strokeWidth":1.5},
"encoding":{"x":{"field":"g","type":"nominal","sort":["WT","KO"],"scale":{"domain":["WT","KO"],"range":[81,145],"paddingInner":0.3,"paddingOuter":0.8},"axis":{"title":null,"labelFontSize":6,"tickSize":3}},
"y":{"field":"m","type":"quantitative","scale":{"domain":[0,4000],"range":[176,89]},"axis":{"offset":-81,"values":[0,1000,2000,3000,4000],"format":"d","title":"Area under the curve","labelFontSize":6,"titleFontSize":7,"tickSize":3}},
"fill":{"condition":{"test":"datum.g=='WT'","value":"#d9d9d9"},"value":"#1af0f0"}}},
{"data":{"name":"bars"},"transform":[{"filter":"datum.p=='Ji'"}],"mark":{"type":"rule","color":"black","strokeWidth":1},
"encoding":{"x":{"field":"g","type":"nominal","sort":["WT","KO"]},"y":{"field":"m","type":"quantitative"},"y2":{"field":"hi"}}},
{"data":{"name":"bars"},"transform":[{"filter":"datum.p=='Ji'"}],"mark":{"type":"tick","orient":"horizontal","color":"black","thickness":1,"size":7},
"encoding":{"x":{"field":"g","type":"nominal","sort":["WT","KO"]},"y":{"field":"hi","type":"quantitative"}}},
{"data":{"name":"br"},"transform":[{"filter":"datum.p=='Ji'"}],"mark":{"type":"line","color":"black","strokeWidth":1},
"encoding":{"x":{"field":"g","type":"nominal","sort":["WT","KO"]},"y":{"field":"y","type":"quantitative"},"order":{"field":"o"}}},
{"data":{"name":"st"},"transform":[{"filter":"datum.p=='Ji'"}],"mark":{"type":"text","fontSize":11,"fontWeight":"bold","font":"Liberation Sans","baseline":"middle","color":"black"},
"encoding":{"x":{"datum":"WT","type":"nominal","bandPosition":1.21},"y":{"field":"y","type":"quantitative"},"text":{"field":"t"}}}
]},
{"width":117,"height":174,"title":{"text":"K","dx":-21,"dy":54},
"layer":[
{"data":{"name":"ts"},"transform":[{"filter":"datum.p=='K'"}],"mark":{"type":"rule","color":"#666","strokeWidth":1},
"encoding":{"x":{"field":"t","type":"quantitative","scale":{"domain":[-5,125],"range":[28,206],"nice":false,"zero":false},"axis":{"values":[0,30,60,90,120],"format":"d","title":"Time (min)"}},
"y":{"field":"m","type":"quantitative","scale":{"domain":[0,150],"range":[174,67],"nice":false},"axis":{"offset":-28,"values":[0,50,100,150],"format":"d","title":["ip ITT","% change of initial glucose"]}},"y2":{"field":"e"}}},
{"data":{"name":"ts"},"transform":[{"filter":"datum.p=='K'"}],"mark":{"type":"tick","orient":"horizontal","color":"#666","thickness":1,"size":6},
"encoding":{"x":{"field":"t","type":"quantitative"},"y":{"field":"e","type":"quantitative"}}},
{"data":{"name":"ts"},"transform":[{"filter":"datum.p=='K'"}],"mark":{"type":"line","color":"#555","strokeWidth":1},
"encoding":{"x":{"field":"t","type":"quantitative"},"y":{"field":"m","type":"quantitative"},"detail":{"field":"g"}}},
{"data":{"name":"ts"},"transform":[{"filter":"datum.p=='K'"}],"mark":{"type":"point","filled":true,"strokeWidth":1,"size":34,"opacity":1},
"encoding":{"x":{"field":"t","type":"quantitative"},"y":{"field":"m","type":"quantitative"},
"shape":{"field":"g","type":"nominal","scale":{"domain":["WT","KO"],"range":["circle","square"]},"legend":{"title":null,"orient":"none","legendX":36,"legendY":122,"labelExpr":"datum.label=='WT' ? 'WT (n=15)' : 'Alb-GDF15ᴷᴼ (n=13)'","labelFontSize":11,"labelFont":"Liberation Sans","labelFontWeight":"normal","labelColor":"black","symbolStrokeWidth":1,"symbolSize":45,"rowPadding":4}},
"fill":{"field":"g","type":"nominal","scale":{"domain":["WT","KO"],"range":["white","#1cb3b3"]},"legend":{"title":null,"orient":"none","legendX":36,"legendY":122,"labelExpr":"datum.label=='WT' ? 'WT (n=15)' : 'Alb-GDF15ᴷᴼ (n=13)'","labelFontSize":11,"labelFont":"Liberation Sans","labelFontWeight":"normal","labelColor":"black","symbolStrokeWidth":1,"symbolSize":45,"rowPadding":4}},
"stroke":{"field":"g","type":"nominal","scale":{"domain":["WT","KO"],"range":["black","black"]},"legend":{"title":null,"orient":"none","legendX":36,"legendY":122,"labelExpr":"datum.label=='WT' ? 'WT (n=15)' : 'Alb-GDF15ᴷᴼ (n=13)'","labelFontSize":11,"labelFont":"Liberation Sans","labelFontWeight":"normal","labelColor":"black","symbolStrokeWidth":1,"symbolSize":45,"rowPadding":4}}}}
]},
{"width":105,"height":174,
"layer":[
{"data":{"name":"bars"},"transform":[{"filter":"datum.p=='Ki'"}],"mark":{"type":"bar","stroke":"black","strokeWidth":1.5},
"encoding":{"x":{"field":"g","type":"nominal","sort":["WT","KO"],"scale":{"domain":["WT","KO"],"range":[116,176],"paddingInner":0.3,"paddingOuter":0.7},"axis":{"title":null,"labelFontSize":6,"tickSize":3}},
"y":{"field":"m","type":"quantitative","scale":{"domain":[0,15000],"range":[174,89]},"axis":{"offset":-116,"values":[0,5000,10000,15000],"format":"d","title":"Area under the curve","labelFontSize":6,"titleFontSize":7,"tickSize":3}},
"fill":{"condition":{"test":"datum.g=='WT'","value":"#d9d9d9"},"value":"#1af0f0"}}},
{"data":{"name":"bars"},"transform":[{"filter":"datum.p=='Ki'"}],"mark":{"type":"rule","color":"black","strokeWidth":1},
"encoding":{"x":{"field":"g","type":"nominal","sort":["WT","KO"]},"y":{"field":"m","type":"quantitative"},"y2":{"field":"hi"}}},
{"data":{"name":"bars"},"transform":[{"filter":"datum.p=='Ki'"}],"mark":{"type":"tick","orient":"horizontal","color":"black","thickness":1,"size":7},
"encoding":{"x":{"field":"g","type":"nominal","sort":["WT","KO"]},"y":{"field":"hi","type":"quantitative"}}},
{"data":{"name":"br"},"transform":[{"filter":"datum.p=='Ki'"}],"mark":{"type":"line","color":"black","strokeWidth":1},
"encoding":{"x":{"field":"g","type":"nominal","sort":["WT","KO"]},"y":{"field":"y","type":"quantitative"},"order":{"field":"o"}}},
{"data":{"name":"st"},"transform":[{"filter":"datum.p=='Ki'"}],"mark":{"type":"text","fontSize":11,"fontWeight":"bold","font":"Liberation Sans","baseline":"middle","color":"black"},
"encoding":{"x":{"datum":"WT","type":"nominal","bandPosition":1.21},"y":{"field":"y","type":"quantitative"},"text":{"field":"t"}}}
]},
{"width":72,"height":1,"data":{"values":[]},"mark":"point","encoding":{}},

{"width":170,"height":181,"title":{"text":"L","dx":3,"dy":56},
"layer":[
{"data":{"name":"bars"},"transform":[{"filter":"datum.p=='Glu'"}],"mark":{"type":"bar","stroke":"black","strokeWidth":1.5},
"encoding":{"x":{"field":"g","type":"nominal","sort":["WT","KO"],"scale":{"domain":["WT","KO"],"range":[53,135],"paddingInner":0.35,"paddingOuter":0.38},"axis":{"title":null}},
"y":{"field":"m","type":"quantitative","scale":{"domain":[0,25],"range":[181,62]},"axis":{"offset":-53,"values":[0,5,10,15,20,25],"format":"d","title":["6h Fasting glucose","(mmol/L)"]}},
"fill":{"condition":{"test":"datum.g=='WT'","value":"#e8e8e8"},"value":"#1af0f0"}}},
{"data":{"name":"bars"},"transform":[{"filter":"datum.p=='Glu'"}],"mark":{"type":"rule","color":"black","strokeWidth":1.2},
"encoding":{"x":{"field":"g","type":"nominal","sort":["WT","KO"]},"y":{"field":"lo","type":"quantitative"},"y2":{"field":"hi"}}},
{"data":{"name":"bars"},"transform":[{"filter":"datum.p=='Glu'"},{"fold":["lo","hi"],"as":["k","e"]}],"mark":{"type":"tick","orient":"horizontal","color":"black","thickness":1.2,"size":9},
"encoding":{"x":{"field":"g","type":"nominal","sort":["WT","KO"]},"y":{"field":"e","type":"quantitative"}}},
{"data":{"name":"pts"},"transform":[{"filter":"datum.p=='Glu'"},{"window":[{"op":"row_number","as":"r"}],"groupby":["g"],"sort":[{"field":"v"}]},{"calculate":"''+(datum.r%4)","as":"s"}],
"mark":{"type":"point","filled":true,"stroke":"black","strokeWidth":1,"size":42,"opacity":1},
"encoding":{"x":{"field":"g","type":"nominal","sort":["WT","KO"]},"xOffset":{"field":"s","type":"nominal","scale":{"domain":["1","2","3","0"],"paddingOuter":0.2}},"y":{"field":"v","type":"quantitative"},
"shape":{"condition":{"test":"datum.g=='WT'","value":"circle"},"value":"square"},"fill":{"condition":{"test":"datum.g=='WT'","value":"white"},"value":"#58c4e6"}}}
]},
{"width":122,"height":181,
"layer":[
{"data":{"name":"bars"},"transform":[{"filter":"datum.p=='Ins'"}],"mark":{"type":"bar","stroke":"black","strokeWidth":1.5},
"encoding":{"x":{"field":"g","type":"nominal","sort":["WT","KO"],"scale":{"domain":["WT","KO"],"range":[0,85],"paddingInner":0.34,"paddingOuter":0.39},"axis":{"title":null}},
"y":{"field":"m","type":"quantitative","scale":{"domain":[0,25],"range":[181,62]},"axis":{"values":[0,5,10,15,20,25],"format":"d","title":"6h Fasting insulin (ug/L)"}},
"fill":{"condition":{"test":"datum.g=='WT'","value":"#e8e8e8"},"value":"#1af0f0"}}},
{"data":{"name":"bars"},"transform":[{"filter":"datum.p=='Ins'"}],"mark":{"type":"rule","color":"black","strokeWidth":1.2},
"encoding":{"x":{"field":"g","type":"nominal","sort":["WT","KO"]},"y":{"field":"lo","type":"quantitative"},"y2":{"field":"hi"}}},
{"data":{"name":"bars"},"transform":[{"filter":"datum.p=='Ins'"},{"fold":["lo","hi"],"as":["k","e"]}],"mark":{"type":"tick","orient":"horizontal","color":"black","thickness":1.2,"size":9},
"encoding":{"x":{"field":"g","type":"nominal","sort":["WT","KO"]},"y":{"field":"e","type":"quantitative"}}},
{"data":{"name":"pts"},"transform":[{"filter":"datum.p=='Ins'"},{"window":[{"op":"row_number","as":"r"}],"groupby":["g"],"sort":[{"field":"v"}]},{"calculate":"''+(datum.r%4)","as":"s"}],
"mark":{"type":"point","filled":true,"stroke":"black","strokeWidth":1,"size":42,"opacity":1},
"encoding":{"x":{"field":"g","type":"nominal","sort":["WT","KO"]},"xOffset":{"field":"s","type":"nominal","scale":{"domain":["1","2","3","0"],"paddingOuter":0.2}},"y":{"field":"v","type":"quantitative"},
"shape":{"condition":{"test":"datum.g=='WT'","value":"circle"},"value":"square"},"fill":{"condition":{"test":"datum.g=='WT'","value":"white"},"value":"#58c4e6"}}},
{"data":{"name":"br"},"transform":[{"filter":"datum.p=='Ins'"}],"mark":{"type":"line","color":"black","strokeWidth":1.2},
"encoding":{"x":{"field":"g","type":"nominal","sort":["WT","KO"]},"y":{"field":"y","type":"quantitative"},"order":{"field":"o"}}},
{"data":{"name":"st"},"transform":[{"filter":"datum.p=='Ins'"}],"mark":{"type":"text","fontSize":14,"fontWeight":"bold","font":"Liberation Sans","baseline":"middle","color":"black"},
"encoding":{"x":{"datum":"WT","type":"nominal","bandPosition":1.26},"y":{"field":"y","type":"quantitative"},"text":{"field":"t"}}}
]},
{"width":177,"height":181,
"layer":[
{"data":{"name":"bars"},"transform":[{"filter":"datum.p=='HOMA'"}],"mark":{"type":"bar","stroke":"black","strokeWidth":1.5},
"encoding":{"x":{"field":"g","type":"nominal","sort":["WT","KO"],"scale":{"domain":["WT","KO"],"range":[0,83],"paddingInner":0.34,"paddingOuter":0.41},"axis":{"title":null}},
"y":{"field":"m","type":"quantitative","scale":{"domain":[0,20],"range":[181,62]},"axis":{"values":[0,5,10,15,20],"format":"d","title":"HOMA-IR"}},
"fill":{"condition":{"test":"datum.g=='WT'","value":"#e8e8e8"},"value":"#1af0f0"}}},
{"data":{"name":"bars"},"transform":[{"filter":"datum.p=='HOMA'"}],"mark":{"type":"rule","color":"black","strokeWidth":1.2},
"encoding":{"x":{"field":"g","type":"nominal","sort":["WT","KO"]},"y":{"field":"lo","type":"quantitative"},"y2":{"field":"hi"}}},
{"data":{"name":"bars"},"transform":[{"filter":"datum.p=='HOMA'"},{"fold":["lo","hi"],"as":["k","e"]}],"mark":{"type":"tick","orient":"horizontal","color":"black","thickness":1.2,"size":9},
"encoding":{"x":{"field":"g","type":"nominal","sort":["WT","KO"]},"y":{"field":"e","type":"quantitative"}}},
{"data":{"name":"pts"},"transform":[{"filter":"datum.p=='HOMA'"},{"window":[{"op":"row_number","as":"r"}],"groupby":["g"],"sort":[{"field":"v"}]},{"calculate":"''+(datum.r%4)","as":"s"}],
"mark":{"type":"point","filled":true,"stroke":"black","strokeWidth":1,"size":42,"opacity":1},
"encoding":{"x":{"field":"g","type":"nominal","sort":["WT","KO"]},"xOffset":{"field":"s","type":"nominal","scale":{"domain":["1","2","3","0"],"paddingOuter":0.2}},"y":{"field":"v","type":"quantitative"},
"shape":{"condition":{"test":"datum.g=='WT'","value":"circle"},"value":"square"},"fill":{"condition":{"test":"datum.g=='WT'","value":"white"},"value":"#58c4e6"}}},
{"data":{"name":"br"},"transform":[{"filter":"datum.p=='HOMA'"}],"mark":{"type":"line","color":"black","strokeWidth":1.2},
"encoding":{"x":{"field":"g","type":"nominal","sort":["WT","KO"]},"y":{"field":"y","type":"quantitative"},"order":{"field":"o"}}},
{"data":{"name":"st"},"transform":[{"filter":"datum.p=='HOMA'"}],"mark":{"type":"text","fontSize":14,"fontWeight":"bold","font":"Liberation Sans","baseline":"middle","color":"black"},
"encoding":{"x":{"datum":"WT","type":"nominal","bandPosition":1.26},"y":{"field":"y","type":"quantitative"},"text":{"field":"t"}}}
]},
{"width":117,"height":1,"data":{"values":[]},"mark":"point","encoding":{}},
{"width":105,"height":1,"data":{"values":[]},"mark":"point","encoding":{}},
{"width":72,"height":1,"data":{"values":[]},"mark":"point","encoding":{}}
]
}
